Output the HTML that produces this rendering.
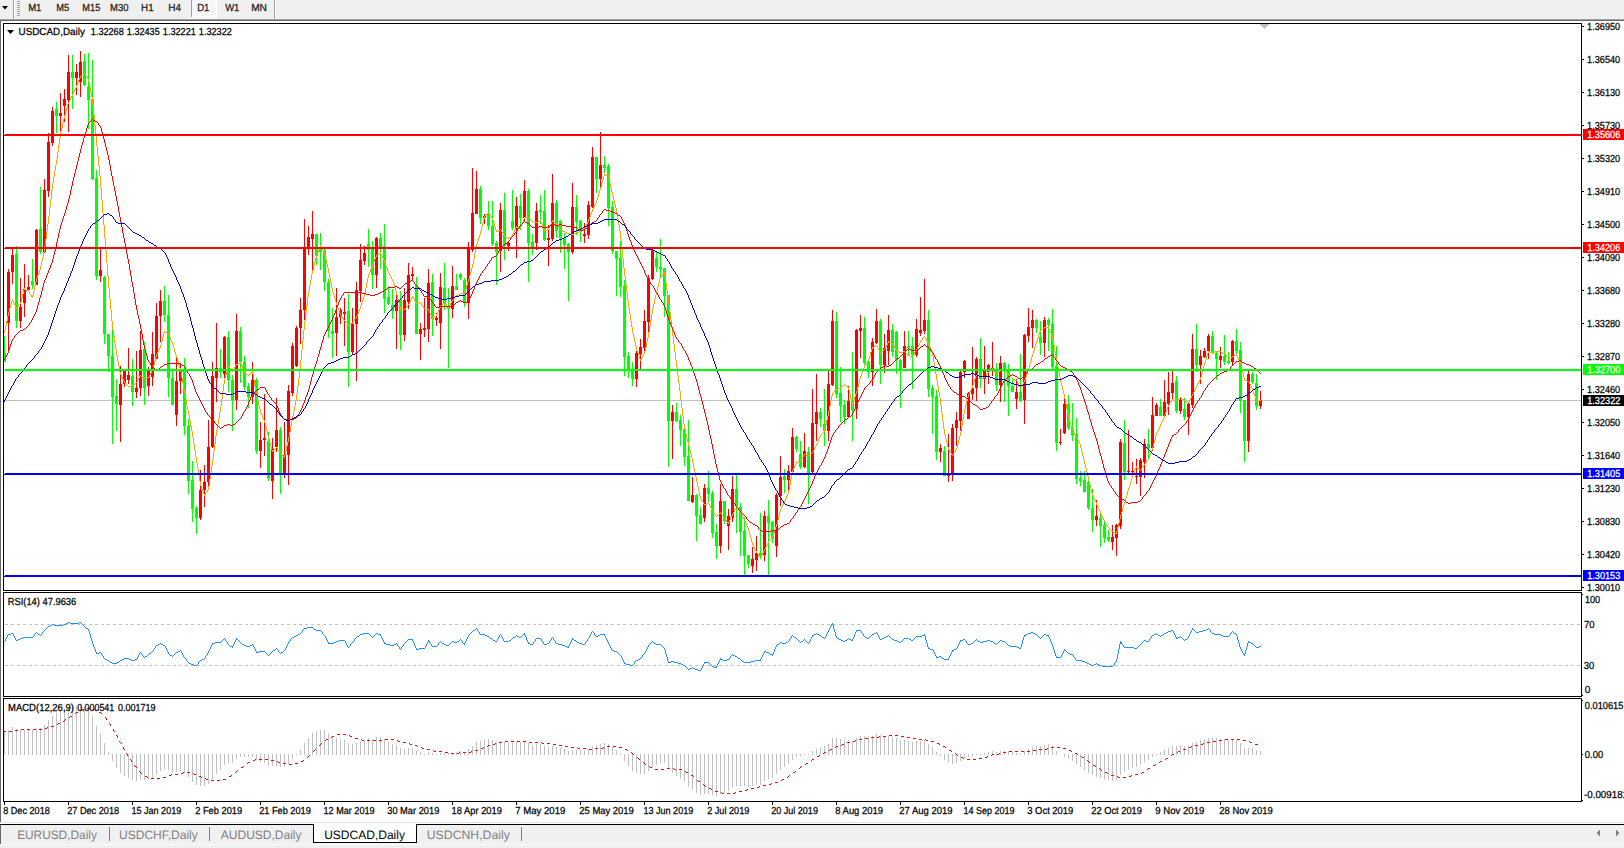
<!DOCTYPE html>
<html><head><meta charset="utf-8"><title>USDCAD,Daily</title>
<style>html,body{margin:0;padding:0;background:#fff;overflow:hidden}svg{display:block}text{font-family:"Liberation Sans",sans-serif;white-space:pre;text-rendering:geometricPrecision}</style>
</head><body>
<svg width="1624" height="848" viewBox="0 0 1624 848">
<rect x="0" y="0" width="1624" height="848" fill="#ffffff"/>
<rect x="0" y="0" width="1624" height="19" fill="#f0f0f0"/>
<rect x="0" y="19" width="1624" height="1" fill="#a0a0a0"/>
<rect x="0" y="20" width="1624" height="1" fill="#696969"/>
<rect x="0" y="20" width="1" height="802" fill="#696969"/>
<rect x="13" y="0" width="1" height="19" fill="#a0a0a0"/>
<rect x="14" y="0" width="1" height="19" fill="#ffffff"/>
<rect x="17" y="1" width="3" height="1" fill="#a6a6a6"/>
<rect x="17" y="3" width="3" height="1" fill="#a6a6a6"/>
<rect x="17" y="5" width="3" height="1" fill="#a6a6a6"/>
<rect x="17" y="7" width="3" height="1" fill="#a6a6a6"/>
<rect x="17" y="9" width="3" height="1" fill="#a6a6a6"/>
<rect x="17" y="11" width="3" height="1" fill="#a6a6a6"/>
<rect x="17" y="13" width="3" height="1" fill="#a6a6a6"/>
<rect x="17" y="15" width="3" height="1" fill="#a6a6a6"/>
<path d="M2 6H8L5 9.5Z" fill="#000"/>
<defs><pattern id="chk" width="2" height="2" patternUnits="userSpaceOnUse"><rect width="2" height="2" fill="#f0f0f0"/><rect width="1" height="1" fill="#fff"/><rect x="1" y="1" width="1" height="1" fill="#fff"/></pattern></defs>
<rect x="191" y="0" width="1" height="17" fill="#a0a0a0"/>
<rect x="192" y="0" width="24" height="17" fill="url(#chk)"/>
<rect x="216" y="0" width="1" height="18" fill="#ffffff"/>
<rect x="191" y="17" width="26" height="1" fill="#ffffff"/>
<rect x="274" y="0" width="1" height="19" fill="#a0a0a0"/>
<rect x="275" y="0" width="1" height="19" fill="#ffffff"/>
<g font-family="Liberation Sans, sans-serif">
<text x="28.13" y="11" font-size="10.2" fill="#202020" textLength="13.34" lengthAdjust="spacingAndGlyphs" stroke="#202020" stroke-width="0.25">M1</text>
<text x="56.25" y="11" font-size="10.2" fill="#202020" textLength="13.02" lengthAdjust="spacingAndGlyphs" stroke="#202020" stroke-width="0.25">M5</text>
<text x="82.36" y="11" font-size="10.2" fill="#202020" textLength="17.91" lengthAdjust="spacingAndGlyphs" stroke="#202020" stroke-width="0.25">M15</text>
<text x="110.09" y="11" font-size="10.2" fill="#202020" textLength="18.49" lengthAdjust="spacingAndGlyphs" stroke="#202020" stroke-width="0.25">M30</text>
<text x="141.12" y="11" font-size="10.2" fill="#202020" textLength="12.5" lengthAdjust="spacingAndGlyphs" stroke="#202020" stroke-width="0.25">H1</text>
<text x="168.2" y="11" font-size="10.2" fill="#202020" textLength="12.78" lengthAdjust="spacingAndGlyphs" stroke="#202020" stroke-width="0.25">H4</text>
<text x="197.13" y="11" font-size="10.2" fill="#202020" textLength="12.28" lengthAdjust="spacingAndGlyphs" stroke="#202020" stroke-width="0.25">D1</text>
<text x="225.15" y="11" font-size="10.2" fill="#202020" textLength="14.22" lengthAdjust="spacingAndGlyphs" stroke="#202020" stroke-width="0.25">W1</text>
<text x="251.14" y="11" font-size="10.2" fill="#202020" textLength="15.78" lengthAdjust="spacingAndGlyphs" stroke="#202020" stroke-width="0.25">MN</text>
</g>
<rect x="3" y="23" width="1579" height="1" fill="#000"/>
<rect x="3" y="590" width="1579" height="1" fill="#000"/>
<rect x="3" y="23" width="1" height="568" fill="#000"/>
<rect x="1581" y="23" width="1" height="568" fill="#000"/>
<rect x="3" y="592" width="1579" height="1" fill="#000"/>
<rect x="3" y="696" width="1579" height="1" fill="#000"/>
<rect x="3" y="592" width="1" height="105" fill="#000"/>
<rect x="1581" y="592" width="1" height="105" fill="#000"/>
<rect x="3" y="698" width="1579" height="1" fill="#000"/>
<rect x="3" y="801" width="1579" height="1" fill="#000"/>
<rect x="3" y="698" width="1" height="104" fill="#000"/>
<rect x="1581" y="698" width="1" height="104" fill="#000"/>
<path fill="#c0c0c0" d="M1260 24h9v1h-9zM1261 25h7v1h-7zM1262 26h5v1h-5zM1263 27h3v1h-3zM1264 28h1v1h-1z"/>
<g id="plot" shape-rendering="crispEdges">
<rect x="4" y="400" width="1577" height="1" fill="#c0c0c0"/>
<path fill="#ff0000" d="M8 269h1v83h-1zM7 272h3v51h-3zM12 248h1v36h-1zM11 255h3v17h-3zM20 278h1v50h-1zM19 307h3v14h-3zM24 264h1v53h-1zM23 289h3v14h-3zM28 275h1v15h-1zM27 287h3v3h-3zM36 229h1v56h-1zM35 230h3v55h-3zM44 179h1v74h-1zM43 190h3v62h-3zM48 133h1v64h-1zM47 142h3v49h-3zM52 107h1v39h-1zM51 111h3v32h-3zM60 93h1v38h-1zM59 113h3v3h-3zM64 89h1v33h-1zM63 99h3v7h-3zM68 55h1v77h-1zM67 72h3v28h-3zM76 64h1v31h-1zM75 72h3v6h-3zM80 51h1v46h-1zM79 62h3v20h-3zM100 248h1v34h-1zM99 270h3v6h-3zM120 366h1v76h-1zM119 384h3v21h-3zM124 370h1v17h-1zM123 371h3v13h-3zM128 348h1v36h-1zM127 375h3v5h-3zM136 351h1v47h-1zM135 388h3v4h-3zM140 331h1v65h-1zM139 350h3v38h-3zM148 367h1v29h-1zM147 371h3v15h-3zM152 332h1v54h-1zM151 354h3v23h-3zM156 303h1v56h-1zM155 316h3v43h-3zM160 290h1v52h-1zM159 301h3v15h-3zM176 358h1v68h-1zM175 381h3v34h-3zM180 364h1v30h-1zM179 370h3v11h-3zM200 470h1v50h-1zM199 490h3v28h-3zM204 465h1v42h-1zM203 482h3v8h-3zM208 420h1v66h-1zM207 447h3v35h-3zM212 362h1v86h-1zM211 376h3v71h-3zM216 323h1v79h-1zM215 368h3v10h-3zM224 336h1v42h-1zM223 337h3v37h-3zM236 314h1v96h-1zM235 331h3v69h-3zM252 362h1v42h-1zM251 380h3v17h-3zM260 422h1v46h-1zM259 440h3v11h-3zM264 394h1v62h-1zM263 438h3v2h-3zM272 438h1v61h-1zM271 449h3v32h-3zM276 398h1v54h-1zM275 430h3v17h-3zM284 422h1v56h-1zM283 455h3v18h-3zM288 385h1v100h-1zM287 391h3v64h-3zM292 343h1v53h-1zM291 346h3v47h-3zM296 326h1v41h-1zM295 328h3v38h-3zM300 298h1v46h-1zM299 310h3v18h-3zM304 219h1v101h-1zM303 247h3v63h-3zM308 226h1v29h-1zM307 237h3v11h-3zM312 211h1v59h-1zM311 234h3v5h-3zM336 288h1v68h-1zM335 317h3v16h-3zM340 308h1v16h-1zM339 310h3v7h-3zM344 298h1v48h-1zM343 312h3v2h-3zM352 308h1v46h-1zM351 324h3v28h-3zM356 282h1v99h-1zM355 290h3v34h-3zM360 244h1v58h-1zM359 260h3v31h-3zM364 246h1v19h-1zM363 253h3v8h-3zM376 237h1v51h-1zM375 238h3v37h-3zM396 294h1v55h-1zM395 300h3v11h-3zM404 288h1v53h-1zM403 300h3v35h-3zM408 263h1v46h-1zM407 275h3v27h-3zM412 267h1v13h-1zM411 274h3v2h-3zM420 323h1v37h-1zM419 329h3v5h-3zM424 298h1v39h-1zM423 328h3v2h-3zM428 269h1v73h-1zM427 283h3v46h-3zM436 313h1v13h-1zM435 318h3v2h-3zM440 273h1v76h-1zM439 287h3v36h-3zM452 266h1v52h-1zM451 286h3v23h-3zM468 242h1v77h-1zM467 248h3v55h-3zM472 168h1v84h-1zM471 213h3v37h-3zM476 171h1v43h-1zM475 189h3v25h-3zM484 214h1v10h-1zM483 216h3v2h-3zM500 203h1v69h-1zM499 210h3v41h-3zM508 242h1v9h-1zM507 243h3v3h-3zM516 197h1v61h-1zM515 206h3v24h-3zM524 180h1v41h-1zM523 191h3v27h-3zM536 203h1v47h-1zM535 211h3v32h-3zM548 225h1v41h-1zM547 238h3v2h-3zM552 174h1v67h-1zM551 203h3v36h-3zM572 183h1v71h-1zM571 207h3v45h-3zM584 223h1v20h-1zM583 234h3v2h-3zM588 201h1v38h-1zM587 205h3v30h-3zM592 147h1v61h-1zM591 157h3v50h-3zM600 132h1v55h-1zM599 165h3v14h-3zM636 351h1v36h-1zM635 353h3v26h-3zM640 339h1v30h-1zM639 347h3v7h-3zM644 310h1v42h-1zM643 321h3v27h-3zM648 275h1v58h-1zM647 278h3v44h-3zM652 248h1v32h-1zM651 250h3v29h-3zM672 405h1v54h-1zM671 412h3v9h-3zM692 477h1v26h-1zM691 495h3v7h-3zM704 484h1v38h-1zM703 488h3v30h-3zM720 484h1v69h-1zM719 501h3v45h-3zM728 509h1v41h-1zM727 516h3v10h-3zM732 476h1v46h-1zM731 489h3v29h-3zM752 547h1v26h-1zM751 559h3v7h-3zM756 536h1v35h-1zM755 553h3v7h-3zM764 511h1v50h-1zM763 516h3v39h-3zM776 493h1v64h-1zM775 495h3v51h-3zM780 456h1v50h-1zM779 477h3v19h-3zM788 465h1v25h-1zM787 471h3v9h-3zM792 428h1v45h-1zM791 437h3v35h-3zM804 433h1v35h-1zM803 451h3v16h-3zM812 389h1v85h-1zM811 423h3v49h-3zM816 374h1v67h-1zM815 412h3v12h-3zM828 371h1v70h-1zM827 384h3v47h-3zM832 310h1v76h-1zM831 321h3v64h-3zM848 386h1v32h-1zM847 401h3v16h-3zM856 329h1v90h-1zM855 330h3v79h-3zM860 315h1v43h-1zM859 328h3v3h-3zM872 338h1v48h-1zM871 342h3v30h-3zM876 309h1v35h-1zM875 321h3v22h-3zM884 334h1v39h-1zM883 348h3v17h-3zM888 315h1v50h-1zM887 330h3v21h-3zM904 331h1v37h-1zM903 346h3v22h-3zM916 319h1v38h-1zM915 329h3v26h-3zM920 297h1v39h-1zM919 330h3v3h-3zM924 279h1v55h-1zM923 320h3v11h-3zM940 444h1v18h-1zM939 448h3v4h-3zM948 434h1v48h-1zM947 474h3v2h-3zM952 424h1v57h-1zM951 428h3v45h-3zM956 412h1v34h-1zM955 420h3v8h-3zM960 371h1v60h-1zM959 372h3v49h-3zM964 360h1v18h-1zM963 361h3v11h-3zM968 392h1v27h-1zM967 393h3v26h-3zM972 347h1v53h-1zM971 388h3v6h-3zM976 357h1v44h-1zM975 359h3v29h-3zM984 346h1v48h-1zM983 371h3v8h-3zM988 364h1v20h-1zM987 365h3v7h-3zM992 342h1v34h-1zM991 368h3v3h-3zM1000 356h1v46h-1zM999 363h3v22h-3zM1016 379h1v30h-1zM1015 392h3v7h-3zM1024 334h1v90h-1zM1023 335h3v65h-3zM1028 308h1v34h-1zM1027 327h3v9h-3zM1032 310h1v38h-1zM1031 320h3v8h-3zM1044 317h1v40h-1zM1043 320h3v23h-3zM1060 429h1v16h-1zM1059 442h3v1h-3zM1064 399h1v35h-1zM1063 404h3v29h-3zM1096 500h1v26h-1zM1095 516h3v4h-3zM1112 525h1v25h-1zM1111 537h3v5h-3zM1116 524h1v32h-1zM1115 525h3v13h-3zM1120 439h1v90h-1zM1119 442h3v84h-3zM1128 430h1v43h-1zM1127 471h3v1h-3zM1132 462h1v13h-1zM1131 471h3v1h-3zM1136 459h1v25h-1zM1135 476h3v1h-3zM1140 458h1v38h-1zM1139 460h3v17h-3zM1144 439h1v39h-1zM1143 444h3v18h-3zM1152 397h1v54h-1zM1151 415h3v33h-3zM1156 403h1v13h-1zM1155 405h3v11h-3zM1164 380h1v36h-1zM1163 402h3v14h-3zM1168 372h1v43h-1zM1167 392h3v12h-3zM1172 371h1v28h-1zM1171 383h3v10h-3zM1180 398h1v16h-1zM1179 400h3v11h-3zM1188 403h1v32h-1zM1187 404h3v13h-3zM1192 334h1v74h-1zM1191 349h3v56h-3zM1200 350h1v34h-1zM1199 356h3v9h-3zM1204 348h1v10h-1zM1203 351h3v6h-3zM1208 334h1v25h-1zM1207 336h3v15h-3zM1220 347h1v21h-1zM1219 356h3v4h-3zM1232 340h1v26h-1zM1231 341h3v21h-3zM1248 371h1v81h-1zM1247 374h3v67h-3zM1260 391h1v18h-1zM1259 400h3v6h-3z"/>
<path fill="#00ff00" d="M4 336h1v17h-1zM4 353h2v9h-2zM16 246h1v82h-1zM15 254h3v67h-3zM32 259h1v30h-1zM31 281h3v4h-3zM40 187h1v67h-1zM39 229h3v23h-3zM56 102h1v31h-1zM55 109h3v7h-3zM72 55h1v54h-1zM71 72h3v6h-3zM84 54h1v32h-1zM83 61h3v24h-3zM88 53h1v76h-1zM87 87h3v13h-3zM92 60h1v120h-1zM91 99h3v80h-3zM96 170h1v110h-1zM95 178h3v98h-3zM104 276h1v68h-1zM103 277h3v57h-3zM108 334h1v38h-1zM107 334h3v22h-3zM112 330h1v114h-1zM111 356h3v41h-3zM116 379h1v52h-1zM115 396h3v8h-3zM132 359h1v47h-1zM131 376h3v16h-3zM144 342h1v63h-1zM143 349h3v39h-3zM164 286h1v36h-1zM163 301h3v14h-3zM168 295h1v102h-1zM167 315h3v63h-3zM172 371h1v34h-1zM171 378h3v27h-3zM184 358h1v77h-1zM183 370h3v56h-3zM188 419h1v75h-1zM187 426h3v55h-3zM192 461h1v61h-1zM191 480h3v29h-3zM196 506h1v28h-1zM195 508h3v10h-3zM220 349h1v29h-1zM219 368h3v4h-3zM228 331h1v61h-1zM227 337h3v43h-3zM232 375h1v56h-1zM231 380h3v20h-3zM240 327h1v56h-1zM239 331h3v31h-3zM244 356h1v34h-1zM243 362h3v25h-3zM248 383h1v25h-1zM247 386h3v11h-3zM256 378h1v76h-1zM255 380h3v71h-3zM268 432h1v49h-1zM267 441h3v37h-3zM280 427h1v67h-1zM279 430h3v43h-3zM316 234h1v31h-1zM315 234h3v22h-3zM320 233h1v37h-1zM319 248h3v4h-3zM324 249h1v42h-1zM323 250h3v32h-3zM328 279h1v59h-1zM327 282h3v49h-3zM332 308h1v50h-1zM331 331h3v3h-3zM348 294h1v93h-1zM347 311h3v41h-3zM368 229h1v38h-1zM367 244h3v6h-3zM372 241h1v48h-1zM371 248h3v27h-3zM380 233h1v36h-1zM379 238h3v9h-3zM384 224h1v89h-1zM383 246h3v53h-3zM388 286h1v19h-1zM387 297h3v7h-3zM392 289h1v30h-1zM391 305h3v6h-3zM400 291h1v59h-1zM399 300h3v35h-3zM416 277h1v57h-1zM415 285h3v49h-3zM432 274h1v62h-1zM431 282h3v37h-3zM444 263h1v47h-1zM443 288h3v16h-3zM448 288h1v80h-1zM447 306h3v3h-3zM456 274h1v16h-1zM455 286h3v4h-3zM460 273h1v7h-1zM459 274h3v4h-3zM464 278h1v29h-1zM463 280h3v22h-3zM480 186h1v38h-1zM479 189h3v29h-3zM488 201h1v29h-1zM487 213h3v13h-3zM492 201h1v45h-1zM491 226h3v18h-3zM496 241h1v44h-1zM495 243h3v9h-3zM504 193h1v67h-1zM503 210h3v36h-3zM512 190h1v40h-1zM511 221h3v7h-3zM520 194h1v36h-1zM519 206h3v12h-3zM528 189h1v93h-1zM527 191h3v52h-3zM532 234h1v21h-1zM531 242h3v6h-3zM540 195h1v29h-1zM539 210h3v2h-3zM544 190h1v51h-1zM543 211h3v29h-3zM556 200h1v38h-1zM555 203h3v28h-3zM560 220h1v33h-1zM559 221h3v17h-3zM564 233h1v36h-1zM563 238h3v7h-3zM568 243h1v58h-1zM567 244h3v8h-3zM576 195h1v40h-1zM575 207h3v15h-3zM580 220h1v22h-1zM579 221h3v11h-3zM596 157h1v36h-1zM595 157h3v22h-3zM604 156h1v17h-1zM603 165h3v3h-3zM608 164h1v62h-1zM607 166h3v42h-3zM612 201h1v53h-1zM611 207h3v44h-3zM616 251h1v45h-1zM615 251h3v8h-3zM620 241h1v56h-1zM619 258h3v29h-3zM624 280h1v96h-1zM623 286h3v71h-3zM628 352h1v26h-1zM627 356h3v13h-3zM632 362h1v24h-1zM631 369h3v10h-3zM656 251h1v21h-1zM655 258h3v9h-3zM660 239h1v38h-1zM659 267h3v2h-3zM664 268h1v49h-1zM663 268h3v28h-3zM668 295h1v172h-1zM667 295h3v126h-3zM676 403h1v19h-1zM675 412h3v9h-3zM680 415h1v31h-1zM679 420h3v10h-3zM684 429h1v37h-1zM683 429h3v28h-3zM688 420h1v81h-1zM687 456h3v45h-3zM696 494h1v47h-1zM695 495h3v21h-3zM700 507h1v17h-1zM699 515h3v9h-3zM708 471h1v31h-1zM707 488h3v6h-3zM712 491h1v47h-1zM711 493h3v40h-3zM716 524h1v35h-1zM715 532h3v14h-3zM724 501h1v23h-1zM723 501h3v20h-3zM736 475h1v58h-1zM735 489h3v17h-3zM740 503h1v53h-1zM739 507h3v25h-3zM744 517h1v58h-1zM743 531h3v25h-3zM748 555h1v13h-1zM747 555h3v9h-3zM760 513h1v46h-1zM759 553h3v3h-3zM768 500h1v75h-1zM767 516h3v7h-3zM772 521h1v22h-1zM771 522h3v17h-3zM784 469h1v24h-1zM783 476h3v4h-3zM796 436h1v16h-1zM795 437h3v12h-3zM800 441h1v28h-1zM799 454h3v13h-3zM808 447h1v57h-1zM807 452h3v21h-3zM820 408h1v19h-1zM819 412h3v7h-3zM824 389h1v57h-1zM823 424h3v7h-3zM836 312h1v86h-1zM835 321h3v73h-3zM840 367h1v55h-1zM839 393h3v13h-3zM844 400h1v24h-1zM843 405h3v12h-3zM852 352h1v89h-1zM851 401h3v9h-3zM864 317h1v48h-1zM863 328h3v35h-3zM868 361h1v17h-1zM867 362h3v10h-3zM880 319h1v65h-1zM879 321h3v44h-3zM892 324h1v33h-1zM891 330h3v22h-3zM896 331h1v43h-1zM895 332h3v28h-3zM900 359h1v49h-1zM899 360h3v11h-3zM908 331h1v24h-1zM907 346h3v2h-3zM912 337h1v52h-1zM911 346h3v9h-3zM928 310h1v87h-1zM927 320h3v69h-3zM932 385h1v49h-1zM931 388h3v9h-3zM936 390h1v70h-1zM935 396h3v56h-3zM944 446h1v30h-1zM943 451h3v25h-3zM980 338h1v50h-1zM979 359h3v20h-3zM996 363h1v28h-1zM995 371h3v14h-3zM1004 362h1v40h-1zM1003 363h3v6h-3zM1008 364h1v52h-1zM1007 370h3v16h-3zM1012 378h1v14h-1zM1011 386h3v6h-3zM1020 354h1v48h-1zM1019 392h3v9h-3zM1036 319h1v14h-1zM1035 320h3v8h-3zM1040 321h1v34h-1zM1039 337h3v6h-3zM1048 318h1v33h-1zM1047 320h3v5h-3zM1052 309h1v60h-1zM1051 324h3v43h-3zM1056 346h1v105h-1zM1055 366h3v77h-3zM1068 395h1v35h-1zM1067 404h3v24h-3zM1072 403h1v38h-1zM1071 429h3v6h-3zM1076 418h1v66h-1zM1075 434h3v45h-3zM1080 471h1v15h-1zM1079 478h3v3h-3zM1084 471h1v21h-1zM1083 480h3v12h-3zM1088 481h1v29h-1zM1087 482h3v26h-3zM1092 489h1v43h-1zM1091 508h3v12h-3zM1100 514h1v33h-1zM1099 518h3v8h-3zM1104 522h1v21h-1zM1103 525h3v13h-3zM1108 530h1v12h-1zM1107 537h3v3h-3zM1124 420h1v60h-1zM1123 443h3v29h-3zM1148 429h1v30h-1zM1147 444h3v4h-3zM1160 399h1v17h-1zM1159 407h3v9h-3zM1176 376h1v37h-1zM1175 381h3v30h-3zM1184 398h1v22h-1zM1183 409h3v8h-3zM1196 324h1v48h-1zM1195 349h3v16h-3zM1212 331h1v23h-1zM1211 336h3v17h-3zM1216 352h1v28h-1zM1215 353h3v6h-3zM1224 335h1v30h-1zM1223 356h3v6h-3zM1228 352h1v12h-1zM1227 361h3v2h-3zM1236 329h1v26h-1zM1235 341h3v10h-3zM1240 342h1v71h-1zM1239 350h3v51h-3zM1244 400h1v62h-1zM1243 400h3v41h-3zM1252 372h1v12h-1zM1251 374h3v8h-3zM1256 374h1v36h-1zM1255 383h3v23h-3z"/>
<path fill="#ffa500" d="M81 75h2v1h-2zM604 174h2v1h-2zM606 175h3v1h-3zM524 217h5v1h-5zM532 221h2v1h-2zM538 221h3v1h-3zM552 221h2v1h-2zM534 222h4v1h-4zM516 227h3v1h-3zM519 228h2v1h-2zM547 229h2v1h-2zM498 230h2v1h-2zM544 230h3v1h-3zM561 230h2v1h-2zM582 230h2v1h-2zM496 231h2v1h-2zM563 231h2v1h-2zM579 231h3v1h-3zM565 232h2v1h-2zM576 232h3v1h-3zM567 233h3v1h-3zM574 233h2v1h-2zM570 234h4v1h-4zM506 237h2v1h-2zM509 237h2v1h-2zM320 246h2v1h-2zM379 253h2v1h-2zM377 254h2v1h-2zM663 273h2v1h-2zM24 289h2v1h-2zM26 290h2v1h-2zM460 293h5v1h-5zM458 294h2v1h-2zM31 295h2v1h-2zM456 295h2v1h-2zM31 296h2v1h-2zM412 297h2v1h-2zM419 302h2v1h-2zM416 303h3v1h-3zM16 307h2v1h-2zM424 308h2v1h-2zM400 309h5v1h-5zM426 309h3v1h-3zM432 317h3v1h-3zM350 323h2v1h-2zM348 324h2v1h-2zM1044 327h5v1h-5zM1041 329h2v1h-2zM164 332h3v1h-3zM167 333h2v1h-2zM888 342h3v1h-3zM891 343h2v1h-2zM874 346h2v1h-2zM872 347h2v1h-2zM881 351h2v1h-2zM897 351h2v1h-2zM903 351h2v1h-2zM1208 351h2v1h-2zM1215 351h6v1h-6zM899 352h4v1h-4zM1210 352h5v1h-5zM1221 352h2v1h-2zM1223 353h2v1h-2zM908 355h2v1h-2zM1234 355h3v1h-3zM910 356h3v1h-3zM1232 356h2v1h-2zM1230 357h2v1h-2zM1228 358h2v1h-2zM640 359h2v1h-2zM238 363h3v1h-3zM236 364h2v1h-2zM228 367h2v1h-2zM1003 369h2v1h-2zM1000 370h3v1h-3zM251 372h2v1h-2zM997 372h2v1h-2zM246 374h2v1h-2zM976 374h2v1h-2zM978 375h3v1h-3zM981 376h2v1h-2zM142 377h2v1h-2zM147 377h2v1h-2zM983 377h2v1h-2zM144 378h3v1h-3zM1013 379h2v1h-2zM1015 380h2v1h-2zM1245 380h2v1h-2zM1247 381h2v1h-2zM133 384h2v1h-2zM131 385h2v1h-2zM128 386h3v1h-3zM841 386h2v1h-2zM846 386h2v1h-2zM838 388h2v1h-2zM836 389h2v1h-2zM1172 399h2v1h-2zM1177 399h2v1h-2zM1182 399h2v1h-2zM1174 400h3v1h-3zM1256 400h5v1h-5zM1185 401h2v1h-2zM1187 402h2v1h-2zM852 403h2v1h-2zM272 450h2v1h-2zM804 454h2v1h-2zM809 454h2v1h-2zM806 455h3v1h-3zM283 456h2v1h-2zM798 461h2v1h-2zM796 462h2v1h-2zM1136 467h2v1h-2zM204 494h2v1h-2zM707 503h2v1h-2zM704 504h3v1h-3zM736 507h2v1h-2zM727 522h2v1h-2zM1113 532h2v1h-2zM1115 533h2v1h-2zM4 330h1v3h-1zM5 325h1v5h-1zM6 321h1v4h-1zM7 316h1v5h-1zM8 312h1v4h-1zM9 308h1v4h-1zM10 305h1v3h-1zM11 301h1v4h-1zM12 299h1v2h-1zM13 301h1v2h-1zM14 303h1v2h-1zM15 305h1v2h-1zM16 308h1v1h-1zM18 305h1v2h-1zM19 304h1v1h-1zM20 302h1v2h-1zM21 298h1v4h-1zM22 294h1v4h-1zM23 290h1v4h-1zM24 288h1v1h-1zM28 291h1v1h-1zM29 292h1v2h-1zM30 294h1v1h-1zM32 297h1v1h-1zM33 291h1v4h-1zM34 286h1v5h-1zM35 282h1v4h-1zM36 278h1v4h-1zM37 275h1v3h-1zM38 273h1v2h-1zM39 270h1v3h-1zM40 266h1v4h-1zM41 261h1v5h-1zM42 257h1v4h-1zM43 252h1v5h-1zM44 246h1v6h-1zM45 239h1v7h-1zM46 231h1v8h-1zM47 224h1v7h-1zM48 216h1v8h-1zM49 207h1v9h-1zM50 199h1v8h-1zM51 190h1v9h-1zM52 183h1v7h-1zM53 177h1v6h-1zM54 171h1v6h-1zM55 165h1v6h-1zM56 159h1v6h-1zM57 152h1v7h-1zM58 145h1v7h-1zM59 138h1v7h-1zM60 132h1v6h-1zM61 128h1v4h-1zM62 123h1v5h-1zM63 119h1v4h-1zM64 115h1v4h-1zM65 111h1v4h-1zM66 108h1v3h-1zM67 104h1v4h-1zM68 102h1v2h-1zM69 100h1v2h-1zM70 98h1v2h-1zM71 96h1v2h-1zM72 94h1v2h-1zM73 92h1v2h-1zM74 90h1v2h-1zM75 88h1v2h-1zM76 85h1v3h-1zM77 83h1v2h-1zM78 80h1v3h-1zM79 78h1v2h-1zM80 76h1v2h-1zM83 74h1v1h-1zM84 73h1v1h-1zM85 74h1v2h-1zM86 76h1v1h-1zM87 77h1v2h-1zM88 79h1v3h-1zM89 82h1v5h-1zM90 87h1v5h-1zM91 92h1v5h-1zM92 97h1v8h-1zM93 105h1v10h-1zM94 115h1v10h-1zM95 125h1v10h-1zM96 135h1v11h-1zM97 146h1v10h-1zM98 156h1v10h-1zM99 166h1v10h-1zM100 176h1v12h-1zM101 188h1v12h-1zM102 200h1v13h-1zM103 213h1v12h-1zM104 225h1v13h-1zM105 238h1v13h-1zM106 251h1v12h-1zM107 263h1v13h-1zM108 276h1v12h-1zM109 288h1v11h-1zM110 299h1v11h-1zM111 310h1v11h-1zM112 321h1v9h-1zM113 330h1v6h-1zM114 336h1v7h-1zM115 343h1v6h-1zM116 349h1v6h-1zM117 355h1v6h-1zM118 361h1v5h-1zM119 366h1v6h-1zM120 372h1v3h-1zM121 375h1v2h-1zM122 377h1v2h-1zM123 379h1v2h-1zM124 381h1v2h-1zM125 383h1v1h-1zM126 384h1v1h-1zM127 385h1v1h-1zM135 383h1v1h-1zM136 382h1v1h-1zM137 380h1v2h-1zM138 378h1v2h-1zM139 376h1v2h-1zM140 375h1v1h-1zM141 376h1v1h-1zM149 375h1v2h-1zM150 373h1v2h-1zM151 371h1v2h-1zM152 369h1v2h-1zM153 365h1v4h-1zM154 361h1v4h-1zM155 357h1v4h-1zM156 354h1v3h-1zM157 352h1v2h-1zM158 350h1v2h-1zM159 348h1v2h-1zM160 345h1v3h-1zM161 341h1v4h-1zM162 337h1v4h-1zM163 333h1v4h-1zM164 331h1v1h-1zM168 334h1v1h-1zM169 335h1v2h-1zM170 337h1v3h-1zM171 340h1v2h-1zM172 342h1v3h-1zM173 345h1v3h-1zM174 348h1v4h-1zM175 352h1v3h-1zM176 355h1v3h-1zM177 358h1v3h-1zM178 361h1v4h-1zM179 365h1v3h-1zM180 368h1v4h-1zM181 372h1v6h-1zM182 378h1v5h-1zM183 383h1v6h-1zM184 389h1v5h-1zM185 394h1v5h-1zM186 399h1v6h-1zM187 405h1v5h-1zM188 410h1v5h-1zM189 415h1v5h-1zM190 420h1v6h-1zM191 426h1v5h-1zM192 431h1v6h-1zM193 437h1v7h-1zM194 444h1v6h-1zM195 450h1v7h-1zM196 457h1v6h-1zM197 463h1v6h-1zM198 469h1v6h-1zM199 475h1v6h-1zM200 481h1v5h-1zM201 486h1v3h-1zM202 489h1v2h-1zM203 491h1v3h-1zM204 495h1v1h-1zM205 493h1v1h-1zM206 492h1v1h-1zM207 490h1v2h-1zM208 486h1v4h-1zM209 479h1v7h-1zM210 473h1v6h-1zM211 466h1v7h-1zM212 459h1v7h-1zM213 451h1v8h-1zM214 444h1v7h-1zM215 436h1v8h-1zM216 430h1v6h-1zM217 424h1v6h-1zM218 418h1v6h-1zM219 412h1v6h-1zM220 406h1v6h-1zM221 399h1v7h-1zM222 391h1v8h-1zM223 384h1v7h-1zM224 379h1v5h-1zM225 375h1v4h-1zM226 372h1v3h-1zM227 368h1v4h-1zM228 366h1v1h-1zM230 368h1v2h-1zM231 370h1v1h-1zM232 371h1v1h-1zM233 369h1v2h-1zM234 367h1v2h-1zM235 365h1v2h-1zM240 362h1v1h-1zM241 364h1v2h-1zM242 366h1v3h-1zM243 369h1v2h-1zM244 371h1v2h-1zM245 373h1v1h-1zM248 375h1v1h-1zM249 374h1v1h-1zM250 373h1v1h-1zM252 371h1v1h-1zM252 373h1v1h-1zM253 374h1v6h-1zM254 380h1v6h-1zM255 386h1v6h-1zM256 392h1v5h-1zM257 397h1v4h-1zM258 401h1v4h-1zM259 405h1v4h-1zM260 409h1v4h-1zM261 413h1v2h-1zM262 415h1v3h-1zM263 418h1v2h-1zM264 420h1v3h-1zM265 423h1v4h-1zM266 427h1v4h-1zM267 431h1v4h-1zM268 435h1v4h-1zM269 439h1v4h-1zM270 443h1v3h-1zM271 446h1v4h-1zM272 451h1v1h-1zM274 449h1v1h-1zM275 448h1v1h-1zM276 447h1v1h-1zM277 448h1v2h-1zM278 450h1v1h-1zM279 451h1v2h-1zM280 453h1v1h-1zM281 454h1v1h-1zM282 455h1v1h-1zM284 455h1v1h-1zM284 457h1v1h-1zM285 451h1v4h-1zM286 446h1v5h-1zM287 442h1v4h-1zM288 437h1v5h-1zM289 432h1v5h-1zM290 426h1v6h-1zM291 421h1v5h-1zM292 416h1v5h-1zM293 411h1v5h-1zM294 406h1v5h-1zM295 401h1v5h-1zM296 394h1v7h-1zM297 386h1v8h-1zM298 378h1v8h-1zM299 370h1v8h-1zM300 360h1v10h-1zM301 350h1v10h-1zM302 340h1v10h-1zM303 330h1v10h-1zM304 321h1v9h-1zM305 313h1v8h-1zM306 305h1v8h-1zM307 297h1v8h-1zM308 291h1v6h-1zM309 285h1v6h-1zM310 280h1v5h-1zM311 274h1v6h-1zM312 270h1v4h-1zM313 266h1v4h-1zM314 262h1v4h-1zM315 258h1v4h-1zM316 255h1v3h-1zM317 252h1v3h-1zM318 250h1v2h-1zM319 247h1v3h-1zM320 245h1v1h-1zM321 247h1v1h-1zM322 248h1v2h-1zM323 250h1v2h-1zM324 252h1v3h-1zM325 255h1v4h-1zM326 259h1v5h-1zM327 264h1v4h-1zM328 268h1v5h-1zM329 273h1v5h-1zM330 278h1v5h-1zM331 283h1v5h-1zM332 288h1v4h-1zM333 292h1v3h-1zM334 295h1v4h-1zM335 299h1v3h-1zM336 302h1v3h-1zM337 305h1v3h-1zM338 308h1v2h-1zM339 310h1v3h-1zM340 313h1v2h-1zM341 315h1v2h-1zM342 317h1v1h-1zM343 318h1v2h-1zM344 320h1v1h-1zM345 321h1v1h-1zM346 322h1v1h-1zM347 323h1v1h-1zM352 322h1v1h-1zM353 321h1v1h-1zM354 319h1v2h-1zM355 318h1v1h-1zM356 316h1v2h-1zM357 314h1v2h-1zM358 311h1v3h-1zM359 309h1v2h-1zM360 306h1v3h-1zM361 303h1v3h-1zM362 300h1v3h-1zM363 297h1v3h-1zM364 293h1v4h-1zM365 288h1v5h-1zM366 283h1v5h-1zM367 278h1v5h-1zM368 274h1v4h-1zM369 272h1v2h-1zM370 269h1v3h-1zM371 267h1v2h-1zM372 264h1v3h-1zM373 262h1v2h-1zM374 259h1v3h-1zM375 257h1v2h-1zM376 255h1v2h-1zM380 252h1v1h-1zM381 254h1v2h-1zM382 256h1v2h-1zM383 258h1v2h-1zM384 260h1v3h-1zM385 263h1v3h-1zM386 266h1v2h-1zM387 268h1v3h-1zM388 271h1v2h-1zM389 273h1v2h-1zM390 275h1v2h-1zM391 277h1v2h-1zM392 279h1v2h-1zM393 281h1v3h-1zM394 284h1v4h-1zM395 288h1v3h-1zM396 291h1v4h-1zM397 295h1v4h-1zM398 299h1v4h-1zM399 303h1v4h-1zM400 307h1v2h-1zM405 308h1v1h-1zM406 306h1v2h-1zM407 305h1v1h-1zM408 304h1v1h-1zM409 302h1v2h-1zM410 300h1v2h-1zM411 298h1v2h-1zM412 296h1v1h-1zM413 298h1v1h-1zM414 299h1v2h-1zM415 301h1v2h-1zM421 303h1v2h-1zM422 305h1v1h-1zM423 306h1v2h-1zM428 310h1v1h-1zM429 311h1v2h-1zM430 313h1v2h-1zM431 315h1v2h-1zM432 318h1v1h-1zM435 316h1v1h-1zM436 314h1v2h-1zM437 312h1v2h-1zM438 310h1v2h-1zM439 308h1v2h-1zM440 306h1v2h-1zM441 305h1v1h-1zM442 304h1v1h-1zM443 303h1v1h-1zM444 302h1v1h-1zM445 303h1v1h-1zM446 304h1v2h-1zM447 306h1v1h-1zM448 307h1v1h-1zM449 305h1v2h-1zM450 303h1v2h-1zM451 301h1v2h-1zM452 300h1v1h-1zM453 299h1v1h-1zM454 297h1v2h-1zM455 296h1v1h-1zM464 292h1v1h-1zM465 289h1v3h-1zM466 285h1v4h-1zM467 282h1v3h-1zM468 279h1v3h-1zM469 275h1v4h-1zM470 272h1v3h-1zM471 268h1v4h-1zM472 264h1v4h-1zM473 259h1v5h-1zM474 253h1v6h-1zM475 248h1v5h-1zM476 244h1v4h-1zM477 241h1v3h-1zM478 238h1v3h-1zM479 235h1v3h-1zM480 231h1v4h-1zM481 227h1v4h-1zM482 223h1v4h-1zM483 219h1v4h-1zM484 216h1v3h-1zM485 215h1v1h-1zM486 214h1v1h-1zM487 213h1v1h-1zM488 212h1v1h-1zM489 213h1v2h-1zM490 215h1v1h-1zM491 216h1v2h-1zM492 218h1v2h-1zM493 220h1v3h-1zM494 223h1v4h-1zM495 227h1v3h-1zM496 230h1v1h-1zM500 229h1v1h-1zM501 230h1v2h-1zM502 232h1v1h-1zM503 233h1v2h-1zM504 235h1v1h-1zM505 236h1v1h-1zM508 238h1v1h-1zM511 236h1v1h-1zM512 234h1v2h-1zM513 232h1v2h-1zM514 230h1v2h-1zM515 228h1v2h-1zM516 226h1v1h-1zM520 227h1v1h-1zM521 224h1v3h-1zM522 222h1v2h-1zM523 219h1v3h-1zM524 218h1v1h-1zM529 218h1v1h-1zM530 219h1v1h-1zM531 220h1v1h-1zM540 220h1v1h-1zM541 222h1v2h-1zM542 224h1v3h-1zM543 227h1v2h-1zM544 229h1v1h-1zM548 228h1v1h-1zM549 226h1v2h-1zM550 224h1v2h-1zM551 222h1v2h-1zM552 220h1v1h-1zM554 222h1v1h-1zM555 223h1v1h-1zM556 224h1v1h-1zM557 225h1v1h-1zM558 226h1v2h-1zM559 228h1v1h-1zM560 229h1v1h-1zM584 228h1v2h-1zM585 226h1v2h-1zM586 224h1v2h-1zM587 222h1v2h-1zM588 219h1v3h-1zM589 217h1v2h-1zM590 214h1v3h-1zM591 212h1v2h-1zM592 209h1v3h-1zM593 207h1v2h-1zM594 205h1v2h-1zM595 203h1v2h-1zM596 200h1v3h-1zM597 197h1v3h-1zM598 193h1v4h-1zM599 190h1v3h-1zM600 187h1v3h-1zM601 183h1v4h-1zM602 180h1v3h-1zM603 176h1v4h-1zM604 175h1v1h-1zM608 176h1v2h-1zM609 178h1v5h-1zM610 183h1v4h-1zM611 187h1v5h-1zM612 192h1v4h-1zM613 196h1v4h-1zM614 200h1v4h-1zM615 204h1v4h-1zM616 208h1v5h-1zM617 213h1v6h-1zM618 219h1v6h-1zM619 225h1v6h-1zM620 231h1v8h-1zM621 239h1v10h-1zM622 249h1v9h-1zM623 258h1v10h-1zM624 268h1v8h-1zM625 276h1v8h-1zM626 284h1v8h-1zM627 292h1v8h-1zM628 300h1v8h-1zM629 308h1v6h-1zM630 314h1v7h-1zM631 321h1v6h-1zM632 327h1v6h-1zM633 333h1v4h-1zM634 337h1v5h-1zM635 342h1v4h-1zM636 346h1v4h-1zM637 350h1v3h-1zM638 353h1v3h-1zM639 356h1v3h-1zM640 360h1v1h-1zM641 358h1v1h-1zM642 356h1v2h-1zM643 354h1v2h-1zM644 351h1v3h-1zM645 347h1v4h-1zM646 342h1v5h-1zM647 338h1v4h-1zM648 332h1v6h-1zM649 326h1v6h-1zM650 320h1v6h-1zM651 314h1v6h-1zM652 308h1v6h-1zM653 304h1v4h-1zM654 299h1v5h-1zM655 295h1v4h-1zM656 291h1v4h-1zM657 287h1v4h-1zM658 283h1v4h-1zM659 279h1v4h-1zM660 277h1v2h-1zM661 276h1v1h-1zM662 274h1v2h-1zM664 272h1v1h-1zM664 274h1v2h-1zM665 276h1v7h-1zM666 283h1v7h-1zM667 290h1v7h-1zM668 297h1v7h-1zM669 304h1v8h-1zM670 312h1v8h-1zM671 320h1v8h-1zM672 328h1v8h-1zM673 336h1v8h-1zM674 344h1v8h-1zM675 352h1v8h-1zM676 360h1v7h-1zM677 367h1v8h-1zM678 375h1v8h-1zM679 383h1v8h-1zM680 391h1v9h-1zM681 400h1v8h-1zM682 408h1v8h-1zM683 416h1v8h-1zM684 424h1v6h-1zM685 430h1v4h-1zM686 434h1v4h-1zM687 438h1v4h-1zM688 442h1v4h-1zM689 446h1v4h-1zM690 450h1v4h-1zM691 454h1v4h-1zM692 458h1v5h-1zM693 463h1v5h-1zM694 468h1v4h-1zM695 472h1v5h-1zM696 477h1v5h-1zM697 482h1v5h-1zM698 487h1v4h-1zM699 491h1v5h-1zM700 496h1v3h-1zM701 499h1v2h-1zM702 501h1v1h-1zM703 502h1v2h-1zM709 504h1v2h-1zM710 506h1v2h-1zM711 508h1v2h-1zM712 510h1v1h-1zM713 511h1v2h-1zM714 513h1v1h-1zM715 514h1v2h-1zM716 516h1v1h-1zM717 515h1v1h-1zM718 514h1v1h-1zM719 513h1v1h-1zM720 512h1v1h-1zM721 513h1v2h-1zM722 515h1v1h-1zM723 516h1v2h-1zM724 518h1v1h-1zM725 519h1v1h-1zM726 520h1v2h-1zM728 523h1v1h-1zM729 520h1v2h-1zM730 518h1v2h-1zM731 516h1v2h-1zM732 514h1v2h-1zM733 512h1v2h-1zM734 510h1v2h-1zM735 508h1v2h-1zM736 506h1v1h-1zM737 508h1v1h-1zM738 509h1v1h-1zM739 510h1v2h-1zM740 512h1v1h-1zM741 513h1v2h-1zM742 515h1v2h-1zM743 517h1v2h-1zM744 519h1v2h-1zM745 521h1v2h-1zM746 523h1v3h-1zM747 526h1v2h-1zM748 528h1v3h-1zM749 531h1v4h-1zM750 535h1v3h-1zM751 538h1v4h-1zM752 542h1v3h-1zM753 545h1v2h-1zM754 547h1v2h-1zM755 549h1v2h-1zM756 551h1v2h-1zM757 553h1v1h-1zM758 554h1v2h-1zM759 556h1v1h-1zM760 557h1v1h-1zM761 555h1v2h-1zM762 553h1v2h-1zM763 551h1v2h-1zM764 549h1v2h-1zM765 547h1v2h-1zM766 545h1v2h-1zM767 543h1v2h-1zM768 541h1v2h-1zM769 540h1v1h-1zM770 539h1v1h-1zM771 538h1v1h-1zM772 536h1v2h-1zM773 533h1v3h-1zM774 530h1v3h-1zM775 527h1v3h-1zM776 524h1v3h-1zM777 520h1v4h-1zM778 516h1v4h-1zM779 512h1v4h-1zM780 509h1v3h-1zM781 507h1v2h-1zM782 505h1v2h-1zM783 503h1v2h-1zM784 501h1v2h-1zM785 499h1v2h-1zM786 496h1v3h-1zM787 494h1v2h-1zM788 490h1v4h-1zM789 485h1v5h-1zM790 479h1v6h-1zM791 474h1v5h-1zM792 470h1v4h-1zM793 468h1v2h-1zM794 466h1v2h-1zM795 464h1v2h-1zM796 463h1v1h-1zM800 460h1v1h-1zM801 458h1v2h-1zM802 457h1v1h-1zM803 455h1v2h-1zM811 453h1v1h-1zM812 452h1v1h-1zM813 450h1v2h-1zM814 448h1v2h-1zM815 446h1v2h-1zM816 444h1v2h-1zM817 442h1v2h-1zM818 439h1v3h-1zM819 437h1v2h-1zM820 435h1v2h-1zM821 434h1v1h-1zM822 433h1v1h-1zM823 432h1v1h-1zM824 429h1v3h-1zM825 425h1v4h-1zM826 420h1v5h-1zM827 416h1v4h-1zM828 411h1v5h-1zM829 406h1v5h-1zM830 401h1v5h-1zM831 396h1v5h-1zM832 393h1v3h-1zM833 392h1v1h-1zM834 391h1v1h-1zM835 390h1v1h-1zM840 387h1v1h-1zM843 385h1v1h-1zM844 384h1v1h-1zM845 385h1v1h-1zM848 387h1v3h-1zM849 390h1v4h-1zM850 394h1v5h-1zM851 399h1v4h-1zM852 404h1v2h-1zM853 401h1v2h-1zM854 397h1v4h-1zM855 394h1v3h-1zM856 391h1v3h-1zM857 387h1v4h-1zM858 383h1v4h-1zM859 379h1v4h-1zM860 376h1v3h-1zM861 373h1v3h-1zM862 371h1v2h-1zM863 368h1v3h-1zM864 366h1v2h-1zM865 364h1v2h-1zM866 363h1v1h-1zM867 361h1v2h-1zM868 359h1v2h-1zM869 356h1v3h-1zM870 352h1v4h-1zM871 349h1v3h-1zM872 348h1v1h-1zM876 345h1v1h-1zM877 346h1v2h-1zM878 348h1v2h-1zM879 350h1v2h-1zM880 352h1v1h-1zM883 350h1v1h-1zM884 349h1v1h-1zM885 347h1v2h-1zM886 345h1v2h-1zM887 343h1v2h-1zM888 341h1v1h-1zM893 344h1v2h-1zM894 346h1v2h-1zM895 348h1v2h-1zM896 350h1v1h-1zM905 352h1v1h-1zM906 353h1v1h-1zM907 354h1v1h-1zM913 354h1v2h-1zM914 352h1v2h-1zM915 350h1v2h-1zM916 349h1v1h-1zM917 347h1v2h-1zM918 345h1v2h-1zM919 343h1v2h-1zM920 341h1v2h-1zM921 340h1v1h-1zM922 338h1v2h-1zM923 337h1v1h-1zM924 336h1v1h-1zM925 337h1v2h-1zM926 339h1v2h-1zM927 341h1v2h-1zM928 343h1v2h-1zM929 345h1v2h-1zM930 347h1v2h-1zM931 349h1v2h-1zM932 351h1v5h-1zM933 356h1v6h-1zM934 362h1v6h-1zM935 368h1v6h-1zM936 374h1v6h-1zM937 380h1v6h-1zM938 386h1v6h-1zM939 392h1v6h-1zM940 398h1v7h-1zM941 405h1v8h-1zM942 413h1v8h-1zM943 421h1v8h-1zM944 429h1v6h-1zM945 435h1v4h-1zM946 439h1v4h-1zM947 443h1v4h-1zM948 447h1v3h-1zM949 450h1v2h-1zM950 452h1v1h-1zM951 453h1v2h-1zM952 455h1v1h-1zM953 453h1v2h-1zM954 452h1v1h-1zM955 450h1v2h-1zM956 448h1v2h-1zM957 444h1v4h-1zM958 440h1v4h-1zM959 436h1v4h-1zM960 432h1v4h-1zM961 426h1v6h-1zM962 420h1v6h-1zM963 414h1v6h-1zM964 409h1v5h-1zM965 405h1v4h-1zM966 401h1v4h-1zM967 397h1v4h-1zM968 394h1v3h-1zM969 392h1v2h-1zM970 390h1v2h-1zM971 388h1v2h-1zM972 385h1v3h-1zM973 382h1v3h-1zM974 379h1v3h-1zM975 376h1v3h-1zM976 375h1v1h-1zM985 376h1v1h-1zM986 374h1v2h-1zM987 373h1v1h-1zM988 372h1v1h-1zM989 371h1v1h-1zM990 370h1v1h-1zM991 369h1v1h-1zM992 368h1v1h-1zM993 369h1v1h-1zM994 370h1v2h-1zM995 372h1v1h-1zM996 373h1v1h-1zM999 371h1v1h-1zM1005 370h1v1h-1zM1006 371h1v2h-1zM1007 373h1v1h-1zM1008 374h1v1h-1zM1009 375h1v1h-1zM1010 376h1v1h-1zM1011 377h1v1h-1zM1012 378h1v1h-1zM1017 381h1v2h-1zM1018 383h1v2h-1zM1019 385h1v2h-1zM1020 387h1v1h-1zM1021 385h1v2h-1zM1022 384h1v1h-1zM1023 382h1v2h-1zM1024 380h1v2h-1zM1025 377h1v3h-1zM1026 374h1v3h-1zM1027 371h1v3h-1zM1028 368h1v3h-1zM1029 364h1v4h-1zM1030 361h1v3h-1zM1031 357h1v4h-1zM1032 354h1v3h-1zM1033 351h1v3h-1zM1034 347h1v4h-1zM1035 344h1v3h-1zM1036 341h1v3h-1zM1037 338h1v3h-1zM1038 335h1v3h-1zM1039 332h1v3h-1zM1040 330h1v2h-1zM1043 328h1v1h-1zM1048 328h1v1h-1zM1049 329h1v2h-1zM1050 331h1v2h-1zM1051 333h1v2h-1zM1052 335h1v4h-1zM1053 339h1v6h-1zM1054 345h1v6h-1zM1055 351h1v6h-1zM1056 357h1v5h-1zM1057 362h1v5h-1zM1058 367h1v5h-1zM1059 372h1v5h-1zM1060 377h1v5h-1zM1061 382h1v4h-1zM1062 386h1v4h-1zM1063 390h1v4h-1zM1064 394h1v5h-1zM1065 399h1v5h-1zM1066 404h1v5h-1zM1067 409h1v5h-1zM1068 414h1v4h-1zM1069 418h1v4h-1zM1070 422h1v3h-1zM1071 425h1v4h-1zM1072 429h1v2h-1zM1073 431h1v2h-1zM1074 433h1v2h-1zM1075 435h1v2h-1zM1076 437h1v1h-1zM1077 438h1v2h-1zM1078 440h1v2h-1zM1079 442h1v2h-1zM1080 444h1v4h-1zM1081 448h1v4h-1zM1082 452h1v4h-1zM1083 456h1v4h-1zM1084 460h1v4h-1zM1085 464h1v4h-1zM1086 468h1v4h-1zM1087 472h1v4h-1zM1088 476h1v5h-1zM1089 481h1v4h-1zM1090 485h1v4h-1zM1091 489h1v4h-1zM1092 493h1v3h-1zM1093 496h1v2h-1zM1094 498h1v2h-1zM1095 500h1v2h-1zM1096 502h1v3h-1zM1097 505h1v2h-1zM1098 507h1v2h-1zM1099 509h1v2h-1zM1100 511h1v3h-1zM1101 514h1v2h-1zM1102 516h1v2h-1zM1103 518h1v2h-1zM1104 520h1v2h-1zM1105 522h1v2h-1zM1106 524h1v1h-1zM1107 525h1v2h-1zM1108 527h1v1h-1zM1109 528h1v1h-1zM1110 529h1v1h-1zM1111 530h1v1h-1zM1112 531h1v1h-1zM1116 531h1v2h-1zM1117 527h1v4h-1zM1118 523h1v4h-1zM1119 519h1v4h-1zM1120 515h1v4h-1zM1121 512h1v3h-1zM1122 508h1v4h-1zM1123 505h1v3h-1zM1124 502h1v3h-1zM1125 498h1v4h-1zM1126 495h1v3h-1zM1127 491h1v4h-1zM1128 488h1v3h-1zM1129 485h1v3h-1zM1130 481h1v4h-1zM1131 478h1v3h-1zM1132 475h1v3h-1zM1133 473h1v2h-1zM1134 470h1v3h-1zM1135 468h1v2h-1zM1136 466h1v1h-1zM1138 468h1v1h-1zM1139 469h1v1h-1zM1140 470h1v1h-1zM1141 468h1v2h-1zM1142 467h1v1h-1zM1143 465h1v2h-1zM1144 464h1v1h-1zM1145 463h1v1h-1zM1146 461h1v2h-1zM1147 460h1v1h-1zM1148 458h1v2h-1zM1149 455h1v3h-1zM1150 453h1v2h-1zM1151 450h1v3h-1zM1152 447h1v3h-1zM1153 443h1v4h-1zM1154 440h1v3h-1zM1155 436h1v4h-1zM1156 433h1v3h-1zM1157 431h1v2h-1zM1158 429h1v2h-1zM1159 427h1v2h-1zM1160 424h1v3h-1zM1161 422h1v2h-1zM1162 420h1v2h-1zM1163 418h1v2h-1zM1164 415h1v3h-1zM1165 412h1v3h-1zM1166 410h1v2h-1zM1167 407h1v3h-1zM1168 405h1v2h-1zM1169 403h1v2h-1zM1170 402h1v1h-1zM1171 400h1v2h-1zM1179 398h1v1h-1zM1180 397h1v1h-1zM1181 398h1v1h-1zM1184 400h1v1h-1zM1189 400h1v2h-1zM1190 398h1v2h-1zM1191 396h1v2h-1zM1192 394h1v2h-1zM1193 392h1v2h-1zM1194 390h1v2h-1zM1195 388h1v2h-1zM1196 386h1v2h-1zM1197 384h1v2h-1zM1198 382h1v2h-1zM1199 380h1v2h-1zM1200 377h1v3h-1zM1201 373h1v4h-1zM1202 370h1v3h-1zM1203 366h1v4h-1zM1204 363h1v3h-1zM1205 360h1v3h-1zM1206 356h1v4h-1zM1207 353h1v3h-1zM1208 352h1v1h-1zM1225 354h1v1h-1zM1226 355h1v2h-1zM1227 357h1v1h-1zM1236 354h1v1h-1zM1237 356h1v2h-1zM1238 358h1v2h-1zM1239 360h1v2h-1zM1240 362h1v3h-1zM1241 365h1v4h-1zM1242 369h1v4h-1zM1243 373h1v4h-1zM1244 377h1v3h-1zM1249 382h1v2h-1zM1250 384h1v2h-1zM1251 386h1v2h-1zM1252 388h1v3h-1zM1253 391h1v3h-1zM1254 394h1v2h-1zM1255 396h1v3h-1zM1256 399h1v1h-1z"/>
<path fill="#ff0000" d="M93 120h2v1h-2zM95 121h2v1h-2zM604 209h2v1h-2zM606 210h4v1h-4zM610 211h3v1h-3zM613 212h2v1h-2zM615 213h2v1h-2zM618 215h2v1h-2zM594 221h2v1h-2zM525 222h2v1h-2zM592 222h2v1h-2zM527 223h2v1h-2zM553 224h2v1h-2zM559 224h3v1h-3zM555 225h4v1h-4zM562 225h4v1h-4zM539 226h3v1h-3zM566 226h8v1h-8zM532 227h7v1h-7zM542 227h7v1h-7zM574 227h3v1h-3zM585 228h2v1h-2zM578 229h2v1h-2zM583 229h2v1h-2zM580 230h3v1h-3zM505 243h2v1h-2zM494 256h2v1h-2zM492 257h2v1h-2zM411 280h2v1h-2zM408 281h3v1h-3zM405 283h2v1h-2zM395 286h2v1h-2zM388 287h7v1h-7zM397 287h2v1h-2zM399 288h2v1h-2zM385 289h2v1h-2zM355 291h3v1h-3zM382 291h2v1h-2zM344 292h11v1h-11zM358 292h4v1h-4zM380 292h2v1h-2zM362 293h4v1h-4zM378 293h2v1h-2zM366 294h4v1h-4zM375 294h3v1h-3zM370 295h5v1h-5zM424 296h5v1h-5zM458 301h2v1h-2zM461 301h2v1h-2zM467 301h2v1h-2zM456 302h2v1h-2zM463 302h4v1h-4zM453 304h2v1h-2zM451 305h2v1h-2zM439 306h12v1h-12zM436 307h3v1h-3zM23 329h2v1h-2zM20 330h3v1h-3zM921 346h2v1h-2zM926 346h2v1h-2zM909 349h2v1h-2zM917 349h2v1h-2zM911 350h6v1h-6zM1050 355h2v1h-2zM1048 356h2v1h-2zM897 358h2v1h-2zM1045 358h2v1h-2zM1239 360h2v1h-2zM1041 361h2v1h-2zM1236 361h3v1h-3zM1242 362h2v1h-2zM167 363h14v1h-14zM1038 363h2v1h-2zM1244 363h2v1h-2zM164 364h3v1h-3zM1036 364h2v1h-2zM1246 364h3v1h-3zM182 365h2v1h-2zM884 365h2v1h-2zM889 365h2v1h-2zM1249 365h2v1h-2zM161 366h2v1h-2zM886 366h3v1h-3zM1061 366h2v1h-2zM1251 366h2v1h-2zM881 367h2v1h-2zM1063 367h2v1h-2zM1065 368h2v1h-2zM1254 368h2v1h-2zM157 369h2v1h-2zM1030 369h2v1h-2zM1067 369h2v1h-2zM1028 370h2v1h-2zM1227 370h2v1h-2zM1070 371h2v1h-2zM1224 371h3v1h-3zM1222 372h2v1h-2zM1220 373h2v1h-2zM1010 375h2v1h-2zM1013 375h2v1h-2zM1217 375h2v1h-2zM1008 376h2v1h-2zM1015 376h2v1h-2zM1018 378h2v1h-2zM260 387h5v1h-5zM257 389h2v1h-2zM253 392h2v1h-2zM954 392h2v1h-2zM957 394h2v1h-2zM959 395h3v1h-3zM962 396h3v1h-3zM966 398h2v1h-2zM973 404h2v1h-2zM975 405h2v1h-2zM986 407h2v1h-2zM983 408h3v1h-3zM980 409h3v1h-3zM849 416h2v1h-2zM287 418h3v1h-3zM294 418h2v1h-2zM284 419h3v1h-3zM290 419h4v1h-4zM845 419h2v1h-2zM227 424h3v1h-3zM233 424h2v1h-2zM224 425h3v1h-3zM230 425h3v1h-3zM221 427h2v1h-2zM1174 434h2v1h-2zM1172 435h2v1h-2zM1118 496h2v1h-2zM1122 499h2v1h-2zM1138 501h2v1h-2zM1126 502h2v1h-2zM1131 502h7v1h-7zM1128 503h3v1h-3zM750 522h2v1h-2zM787 523h2v1h-2zM753 524h2v1h-2zM784 524h3v1h-3zM755 525h2v1h-2zM781 526h2v1h-2zM777 529h2v1h-2zM760 530h2v1h-2zM771 530h6v1h-6zM762 531h9v1h-9zM4 359h1v1h-1zM5 357h1v2h-1zM6 355h1v2h-1zM7 353h1v2h-1zM8 350h1v3h-1zM9 347h1v3h-1zM10 344h1v3h-1zM11 341h1v3h-1zM12 339h1v2h-1zM13 338h1v1h-1zM14 336h1v2h-1zM15 335h1v1h-1zM16 334h1v1h-1zM17 333h1v1h-1zM18 332h1v1h-1zM19 331h1v1h-1zM25 328h1v1h-1zM26 327h1v1h-1zM27 326h1v1h-1zM28 325h1v1h-1zM29 323h1v2h-1zM30 322h1v1h-1zM31 320h1v2h-1zM32 318h1v2h-1zM33 316h1v2h-1zM34 314h1v2h-1zM35 312h1v2h-1zM36 309h1v3h-1zM37 305h1v4h-1zM38 302h1v3h-1zM39 298h1v4h-1zM40 295h1v3h-1zM41 291h1v4h-1zM42 287h1v4h-1zM43 283h1v4h-1zM44 280h1v3h-1zM45 278h1v2h-1zM46 275h1v3h-1zM47 273h1v2h-1zM48 270h1v3h-1zM49 268h1v2h-1zM50 265h1v3h-1zM51 263h1v2h-1zM52 259h1v4h-1zM53 255h1v4h-1zM54 251h1v4h-1zM55 247h1v4h-1zM56 242h1v5h-1zM57 238h1v4h-1zM58 233h1v5h-1zM59 229h1v4h-1zM60 225h1v4h-1zM61 222h1v3h-1zM62 219h1v3h-1zM63 216h1v3h-1zM64 213h1v3h-1zM65 210h1v3h-1zM66 206h1v4h-1zM67 203h1v3h-1zM68 199h1v4h-1zM69 195h1v4h-1zM70 190h1v5h-1zM71 186h1v4h-1zM72 181h1v5h-1zM73 177h1v4h-1zM74 173h1v4h-1zM75 169h1v4h-1zM76 165h1v4h-1zM77 161h1v4h-1zM78 157h1v4h-1zM79 153h1v4h-1zM80 149h1v4h-1zM81 145h1v4h-1zM82 142h1v3h-1zM83 138h1v4h-1zM84 135h1v3h-1zM85 132h1v3h-1zM86 128h1v4h-1zM87 125h1v3h-1zM88 123h1v2h-1zM89 122h1v1h-1zM90 121h1v1h-1zM91 120h1v1h-1zM92 119h1v1h-1zM97 122h1v1h-1zM98 123h1v2h-1zM99 125h1v1h-1zM100 126h1v2h-1zM101 128h1v4h-1zM102 132h1v3h-1zM103 135h1v4h-1zM104 139h1v4h-1zM105 143h1v4h-1zM106 147h1v4h-1zM107 151h1v4h-1zM108 155h1v5h-1zM109 160h1v5h-1zM110 165h1v6h-1zM111 171h1v5h-1zM112 176h1v5h-1zM113 181h1v5h-1zM114 186h1v5h-1zM115 191h1v5h-1zM116 196h1v5h-1zM117 201h1v5h-1zM118 206h1v6h-1zM119 212h1v5h-1zM120 217h1v5h-1zM121 222h1v5h-1zM122 227h1v6h-1zM123 233h1v5h-1zM124 238h1v5h-1zM125 243h1v5h-1zM126 248h1v6h-1zM127 254h1v5h-1zM128 259h1v5h-1zM129 264h1v6h-1zM130 270h1v6h-1zM131 276h1v6h-1zM132 282h1v5h-1zM133 287h1v6h-1zM134 293h1v6h-1zM135 299h1v6h-1zM136 305h1v5h-1zM137 310h1v5h-1zM138 315h1v4h-1zM139 319h1v5h-1zM140 324h1v5h-1zM141 329h1v5h-1zM142 334h1v6h-1zM143 340h1v5h-1zM144 345h1v4h-1zM145 349h1v4h-1zM146 353h1v3h-1zM147 356h1v4h-1zM148 360h1v2h-1zM149 362h1v1h-1zM150 363h1v2h-1zM151 365h1v1h-1zM152 366h1v1h-1zM153 367h1v1h-1zM154 368h1v1h-1zM155 369h1v1h-1zM156 370h1v1h-1zM159 368h1v1h-1zM160 367h1v1h-1zM163 365h1v1h-1zM181 364h1v1h-1zM184 366h1v1h-1zM185 367h1v2h-1zM186 369h1v2h-1zM187 371h1v2h-1zM188 373h1v1h-1zM189 374h1v2h-1zM190 376h1v2h-1zM191 378h1v2h-1zM192 380h1v3h-1zM193 383h1v3h-1zM194 386h1v3h-1zM195 389h1v3h-1zM196 392h1v2h-1zM197 394h1v2h-1zM198 396h1v2h-1zM199 398h1v2h-1zM200 400h1v2h-1zM201 402h1v2h-1zM202 404h1v2h-1zM203 406h1v2h-1zM204 408h1v2h-1zM205 410h1v2h-1zM206 412h1v1h-1zM207 413h1v2h-1zM208 415h1v1h-1zM209 416h1v1h-1zM210 417h1v1h-1zM211 418h1v1h-1zM212 419h1v1h-1zM213 420h1v1h-1zM214 421h1v2h-1zM215 423h1v1h-1zM216 424h1v1h-1zM217 425h1v1h-1zM218 426h1v1h-1zM219 427h1v1h-1zM220 428h1v1h-1zM223 426h1v1h-1zM235 423h1v1h-1zM236 422h1v1h-1zM237 421h1v1h-1zM238 420h1v1h-1zM239 419h1v1h-1zM240 418h1v1h-1zM241 416h1v2h-1zM242 414h1v2h-1zM243 412h1v2h-1zM244 411h1v1h-1zM245 409h1v2h-1zM246 407h1v2h-1zM247 405h1v2h-1zM248 402h1v3h-1zM249 400h1v2h-1zM250 397h1v3h-1zM251 395h1v2h-1zM252 393h1v2h-1zM255 391h1v1h-1zM256 390h1v1h-1zM259 388h1v1h-1zM265 388h1v2h-1zM266 390h1v2h-1zM267 392h1v2h-1zM268 394h1v1h-1zM269 395h1v2h-1zM270 397h1v1h-1zM271 398h1v2h-1zM272 400h1v1h-1zM273 401h1v1h-1zM274 402h1v1h-1zM275 403h1v1h-1zM276 404h1v2h-1zM277 406h1v2h-1zM278 408h1v3h-1zM279 411h1v2h-1zM280 413h1v2h-1zM281 415h1v1h-1zM282 416h1v2h-1zM283 418h1v1h-1zM296 417h1v1h-1zM297 415h1v2h-1zM298 414h1v1h-1zM299 412h1v2h-1zM300 410h1v2h-1zM301 408h1v2h-1zM302 405h1v3h-1zM303 403h1v2h-1zM304 400h1v3h-1zM305 397h1v3h-1zM306 395h1v2h-1zM307 392h1v3h-1zM308 389h1v3h-1zM309 385h1v4h-1zM310 381h1v4h-1zM311 377h1v4h-1zM312 374h1v3h-1zM313 371h1v3h-1zM314 367h1v4h-1zM315 364h1v3h-1zM316 361h1v3h-1zM317 357h1v4h-1zM318 354h1v3h-1zM319 350h1v4h-1zM320 347h1v3h-1zM321 343h1v4h-1zM322 340h1v3h-1zM323 336h1v4h-1zM324 334h1v2h-1zM325 332h1v2h-1zM326 330h1v2h-1zM327 328h1v2h-1zM328 326h1v2h-1zM329 324h1v2h-1zM330 322h1v2h-1zM331 320h1v2h-1zM332 318h1v2h-1zM333 315h1v3h-1zM334 313h1v2h-1zM335 310h1v3h-1zM336 307h1v3h-1zM337 305h1v2h-1zM338 302h1v3h-1zM339 300h1v2h-1zM340 298h1v2h-1zM341 296h1v2h-1zM342 295h1v1h-1zM343 293h1v2h-1zM384 290h1v1h-1zM387 288h1v1h-1zM401 287h1v1h-1zM402 286h1v1h-1zM403 285h1v1h-1zM404 284h1v1h-1zM407 282h1v1h-1zM413 281h1v1h-1zM414 282h1v2h-1zM415 284h1v1h-1zM416 285h1v1h-1zM417 286h1v1h-1zM418 287h1v2h-1zM419 289h1v1h-1zM420 290h1v1h-1zM421 291h1v2h-1zM422 293h1v1h-1zM423 294h1v2h-1zM429 297h1v2h-1zM430 299h1v1h-1zM431 300h1v2h-1zM432 302h1v1h-1zM433 303h1v1h-1zM434 304h1v2h-1zM435 306h1v1h-1zM455 303h1v1h-1zM460 300h1v1h-1zM468 300h1v1h-1zM469 298h1v2h-1zM470 296h1v2h-1zM471 294h1v2h-1zM472 291h1v3h-1zM473 289h1v2h-1zM474 286h1v3h-1zM475 284h1v2h-1zM476 282h1v2h-1zM477 280h1v2h-1zM478 278h1v2h-1zM479 276h1v2h-1zM480 274h1v2h-1zM481 273h1v1h-1zM482 271h1v2h-1zM483 270h1v1h-1zM484 269h1v1h-1zM485 267h1v2h-1zM486 266h1v1h-1zM487 264h1v2h-1zM488 263h1v1h-1zM489 261h1v2h-1zM490 260h1v1h-1zM491 258h1v2h-1zM496 255h1v1h-1zM497 253h1v2h-1zM498 251h1v2h-1zM499 249h1v2h-1zM500 248h1v1h-1zM501 247h1v1h-1zM502 246h1v1h-1zM503 245h1v1h-1zM504 244h1v1h-1zM507 242h1v1h-1zM508 241h1v1h-1zM509 240h1v1h-1zM510 238h1v2h-1zM511 237h1v1h-1zM512 236h1v1h-1zM513 235h1v1h-1zM514 233h1v2h-1zM515 232h1v1h-1zM516 231h1v1h-1zM517 229h1v2h-1zM518 228h1v1h-1zM519 226h1v2h-1zM520 225h1v1h-1zM521 224h1v1h-1zM522 223h1v1h-1zM523 222h1v1h-1zM524 221h1v1h-1zM529 224h1v1h-1zM530 225h1v1h-1zM531 226h1v1h-1zM549 226h1v1h-1zM550 225h1v1h-1zM551 224h1v1h-1zM552 223h1v1h-1zM577 228h1v1h-1zM587 227h1v1h-1zM588 226h1v1h-1zM589 225h1v1h-1zM590 224h1v1h-1zM591 223h1v1h-1zM596 220h1v1h-1zM597 218h1v2h-1zM598 217h1v1h-1zM599 215h1v2h-1zM600 214h1v1h-1zM601 213h1v1h-1zM602 211h1v2h-1zM603 210h1v1h-1zM617 214h1v1h-1zM620 216h1v1h-1zM621 217h1v2h-1zM622 219h1v2h-1zM623 221h1v2h-1zM624 223h1v2h-1zM625 225h1v3h-1zM626 228h1v3h-1zM627 231h1v3h-1zM628 234h1v3h-1zM629 237h1v3h-1zM630 240h1v2h-1zM631 242h1v3h-1zM632 245h1v3h-1zM633 248h1v2h-1zM634 250h1v2h-1zM635 252h1v2h-1zM636 254h1v2h-1zM637 256h1v2h-1zM638 258h1v2h-1zM639 260h1v2h-1zM640 262h1v2h-1zM641 264h1v2h-1zM642 266h1v2h-1zM643 268h1v2h-1zM644 270h1v3h-1zM645 273h1v2h-1zM646 275h1v2h-1zM647 277h1v2h-1zM648 279h1v2h-1zM649 281h1v1h-1zM650 282h1v2h-1zM651 284h1v1h-1zM652 285h1v1h-1zM653 286h1v2h-1zM654 288h1v2h-1zM655 290h1v2h-1zM656 292h1v1h-1zM657 293h1v2h-1zM658 295h1v2h-1zM659 297h1v2h-1zM660 299h1v1h-1zM661 300h1v2h-1zM662 302h1v1h-1zM663 303h1v2h-1zM664 305h1v2h-1zM665 307h1v3h-1zM666 310h1v4h-1zM667 314h1v3h-1zM668 317h1v3h-1zM669 320h1v2h-1zM670 322h1v3h-1zM671 325h1v2h-1zM672 327h1v3h-1zM673 330h1v2h-1zM674 332h1v3h-1zM675 335h1v2h-1zM676 337h1v2h-1zM677 339h1v1h-1zM678 340h1v2h-1zM679 342h1v1h-1zM680 343h1v1h-1zM681 344h1v2h-1zM682 346h1v2h-1zM683 348h1v2h-1zM684 350h1v1h-1zM685 351h1v2h-1zM686 353h1v2h-1zM687 355h1v2h-1zM688 357h1v3h-1zM689 360h1v2h-1zM690 362h1v3h-1zM691 365h1v2h-1zM692 367h1v3h-1zM693 370h1v3h-1zM694 373h1v3h-1zM695 376h1v3h-1zM696 379h1v3h-1zM697 382h1v4h-1zM698 386h1v4h-1zM699 390h1v4h-1zM700 394h1v3h-1zM701 397h1v4h-1zM702 401h1v4h-1zM703 405h1v4h-1zM704 409h1v4h-1zM705 413h1v4h-1zM706 417h1v4h-1zM707 421h1v4h-1zM708 425h1v5h-1zM709 430h1v5h-1zM710 435h1v4h-1zM711 439h1v5h-1zM712 444h1v5h-1zM713 449h1v5h-1zM714 454h1v5h-1zM715 459h1v5h-1zM716 464h1v4h-1zM717 468h1v4h-1zM718 472h1v4h-1zM719 476h1v4h-1zM720 480h1v2h-1zM721 482h1v2h-1zM722 484h1v2h-1zM723 486h1v2h-1zM724 488h1v1h-1zM725 489h1v2h-1zM726 491h1v2h-1zM727 493h1v2h-1zM728 495h1v1h-1zM729 496h1v1h-1zM730 497h1v2h-1zM731 499h1v1h-1zM732 500h1v1h-1zM733 501h1v2h-1zM734 503h1v1h-1zM735 504h1v2h-1zM736 506h1v1h-1zM737 507h1v1h-1zM738 508h1v2h-1zM739 510h1v1h-1zM740 511h1v1h-1zM741 512h1v1h-1zM742 513h1v1h-1zM743 514h1v1h-1zM744 515h1v1h-1zM745 516h1v1h-1zM746 517h1v2h-1zM747 519h1v1h-1zM748 520h1v1h-1zM749 521h1v1h-1zM752 523h1v1h-1zM757 526h1v1h-1zM758 527h1v2h-1zM759 529h1v1h-1zM779 528h1v1h-1zM780 527h1v1h-1zM783 525h1v1h-1zM789 522h1v1h-1zM790 520h1v2h-1zM791 519h1v1h-1zM792 518h1v1h-1zM793 516h1v2h-1zM794 515h1v1h-1zM795 513h1v2h-1zM796 512h1v1h-1zM797 510h1v2h-1zM798 509h1v1h-1zM799 507h1v2h-1zM800 506h1v1h-1zM801 504h1v2h-1zM802 502h1v2h-1zM803 500h1v2h-1zM804 498h1v2h-1zM805 496h1v2h-1zM806 494h1v2h-1zM807 492h1v2h-1zM808 490h1v2h-1zM809 488h1v2h-1zM810 486h1v2h-1zM811 484h1v2h-1zM812 481h1v3h-1zM813 479h1v2h-1zM814 476h1v3h-1zM815 474h1v2h-1zM816 472h1v2h-1zM817 470h1v2h-1zM818 468h1v2h-1zM819 466h1v2h-1zM820 465h1v1h-1zM821 463h1v2h-1zM822 461h1v2h-1zM823 459h1v2h-1zM824 457h1v2h-1zM825 454h1v3h-1zM826 452h1v2h-1zM827 449h1v3h-1zM828 446h1v3h-1zM829 443h1v3h-1zM830 440h1v3h-1zM831 437h1v3h-1zM832 435h1v2h-1zM833 433h1v2h-1zM834 432h1v1h-1zM835 430h1v2h-1zM836 429h1v1h-1zM837 428h1v1h-1zM838 426h1v2h-1zM839 425h1v1h-1zM840 424h1v1h-1zM841 423h1v1h-1zM842 422h1v1h-1zM843 421h1v1h-1zM844 420h1v1h-1zM847 418h1v1h-1zM848 417h1v1h-1zM851 415h1v1h-1zM852 413h1v2h-1zM853 411h1v2h-1zM854 409h1v2h-1zM855 407h1v2h-1zM856 404h1v3h-1zM857 402h1v2h-1zM858 400h1v2h-1zM859 398h1v2h-1zM860 396h1v2h-1zM861 394h1v2h-1zM862 392h1v2h-1zM863 390h1v2h-1zM864 388h1v2h-1zM865 387h1v1h-1zM866 386h1v1h-1zM867 385h1v1h-1zM868 384h1v1h-1zM869 383h1v1h-1zM870 381h1v2h-1zM871 380h1v1h-1zM872 379h1v1h-1zM873 377h1v2h-1zM874 375h1v2h-1zM875 373h1v2h-1zM876 372h1v1h-1zM877 371h1v1h-1zM878 370h1v1h-1zM879 369h1v1h-1zM880 368h1v1h-1zM883 366h1v1h-1zM891 364h1v1h-1zM892 363h1v1h-1zM893 362h1v1h-1zM894 361h1v1h-1zM895 360h1v1h-1zM896 359h1v1h-1zM899 357h1v1h-1zM900 356h1v1h-1zM901 355h1v1h-1zM902 354h1v1h-1zM903 353h1v1h-1zM904 352h1v1h-1zM905 351h1v1h-1zM906 350h1v1h-1zM907 349h1v1h-1zM908 348h1v1h-1zM919 348h1v1h-1zM920 347h1v1h-1zM923 345h1v1h-1zM924 344h1v1h-1zM925 345h1v1h-1zM928 347h1v1h-1zM929 348h1v1h-1zM930 349h1v2h-1zM931 351h1v1h-1zM932 352h1v1h-1zM933 353h1v2h-1zM934 355h1v2h-1zM935 357h1v2h-1zM936 359h1v1h-1zM937 360h1v2h-1zM938 362h1v2h-1zM939 364h1v2h-1zM940 366h1v2h-1zM941 368h1v2h-1zM942 370h1v3h-1zM943 373h1v2h-1zM944 375h1v3h-1zM945 378h1v2h-1zM946 380h1v2h-1zM947 382h1v2h-1zM948 384h1v2h-1zM949 386h1v1h-1zM950 387h1v2h-1zM951 389h1v1h-1zM952 390h1v1h-1zM953 391h1v1h-1zM956 393h1v1h-1zM965 397h1v1h-1zM968 399h1v1h-1zM969 400h1v1h-1zM970 401h1v1h-1zM971 402h1v1h-1zM972 403h1v1h-1zM977 406h1v1h-1zM978 407h1v1h-1zM979 408h1v1h-1zM988 406h1v1h-1zM989 404h1v2h-1zM990 403h1v1h-1zM991 401h1v2h-1zM992 400h1v1h-1zM993 399h1v1h-1zM994 397h1v2h-1zM995 396h1v1h-1zM996 395h1v1h-1zM997 393h1v2h-1zM998 391h1v2h-1zM999 389h1v2h-1zM1000 387h1v2h-1zM1001 385h1v2h-1zM1002 383h1v2h-1zM1003 381h1v2h-1zM1004 380h1v1h-1zM1005 379h1v1h-1zM1006 378h1v1h-1zM1007 377h1v1h-1zM1012 374h1v1h-1zM1017 377h1v1h-1zM1020 379h1v1h-1zM1021 378h1v1h-1zM1022 377h1v1h-1zM1023 376h1v1h-1zM1024 375h1v1h-1zM1025 374h1v1h-1zM1026 372h1v2h-1zM1027 371h1v1h-1zM1032 368h1v1h-1zM1033 367h1v1h-1zM1034 366h1v1h-1zM1035 365h1v1h-1zM1040 362h1v1h-1zM1043 360h1v1h-1zM1044 359h1v1h-1zM1047 357h1v1h-1zM1052 354h1v1h-1zM1053 355h1v2h-1zM1054 357h1v1h-1zM1055 358h1v2h-1zM1056 360h1v1h-1zM1057 361h1v1h-1zM1058 362h1v2h-1zM1059 364h1v1h-1zM1060 365h1v1h-1zM1069 370h1v1h-1zM1072 372h1v1h-1zM1073 373h1v2h-1zM1074 375h1v1h-1zM1075 376h1v2h-1zM1076 378h1v2h-1zM1077 380h1v2h-1zM1078 382h1v3h-1zM1079 385h1v2h-1zM1080 387h1v3h-1zM1081 390h1v3h-1zM1082 393h1v3h-1zM1083 396h1v3h-1zM1084 399h1v3h-1zM1085 402h1v3h-1zM1086 405h1v4h-1zM1087 409h1v3h-1zM1088 412h1v3h-1zM1089 415h1v4h-1zM1090 419h1v3h-1zM1091 422h1v4h-1zM1092 426h1v3h-1zM1093 429h1v3h-1zM1094 432h1v3h-1zM1095 435h1v3h-1zM1096 438h1v3h-1zM1097 441h1v4h-1zM1098 445h1v4h-1zM1099 449h1v4h-1zM1100 453h1v3h-1zM1101 456h1v4h-1zM1102 460h1v4h-1zM1103 464h1v4h-1zM1104 468h1v3h-1zM1105 471h1v3h-1zM1106 474h1v4h-1zM1107 478h1v3h-1zM1108 481h1v2h-1zM1109 483h1v2h-1zM1110 485h1v1h-1zM1111 486h1v2h-1zM1112 488h1v1h-1zM1113 489h1v2h-1zM1114 491h1v1h-1zM1115 492h1v2h-1zM1116 494h1v1h-1zM1117 495h1v1h-1zM1120 497h1v1h-1zM1121 498h1v1h-1zM1124 500h1v1h-1zM1125 501h1v1h-1zM1140 500h1v1h-1zM1141 499h1v1h-1zM1142 497h1v2h-1zM1143 496h1v1h-1zM1144 495h1v1h-1zM1145 494h1v1h-1zM1146 492h1v2h-1zM1147 491h1v1h-1zM1148 490h1v1h-1zM1149 488h1v2h-1zM1150 486h1v2h-1zM1151 484h1v2h-1zM1152 482h1v2h-1zM1153 480h1v2h-1zM1154 478h1v2h-1zM1155 476h1v2h-1zM1156 473h1v3h-1zM1157 471h1v2h-1zM1158 469h1v2h-1zM1159 467h1v2h-1zM1160 464h1v3h-1zM1161 462h1v2h-1zM1162 459h1v3h-1zM1163 457h1v2h-1zM1164 454h1v3h-1zM1165 452h1v2h-1zM1166 449h1v3h-1zM1167 447h1v2h-1zM1168 444h1v3h-1zM1169 442h1v2h-1zM1170 439h1v3h-1zM1171 437h1v2h-1zM1172 436h1v1h-1zM1176 433h1v1h-1zM1177 432h1v1h-1zM1178 430h1v2h-1zM1179 429h1v1h-1zM1180 428h1v1h-1zM1181 427h1v1h-1zM1182 426h1v1h-1zM1183 425h1v1h-1zM1184 424h1v1h-1zM1185 423h1v1h-1zM1186 421h1v2h-1zM1187 420h1v1h-1zM1188 418h1v2h-1zM1189 416h1v2h-1zM1190 414h1v2h-1zM1191 412h1v2h-1zM1192 410h1v2h-1zM1193 408h1v2h-1zM1194 406h1v2h-1zM1195 404h1v2h-1zM1196 403h1v1h-1zM1197 401h1v2h-1zM1198 400h1v1h-1zM1199 398h1v2h-1zM1200 397h1v1h-1zM1201 395h1v2h-1zM1202 393h1v2h-1zM1203 391h1v2h-1zM1204 390h1v1h-1zM1205 388h1v2h-1zM1206 387h1v1h-1zM1207 385h1v2h-1zM1208 384h1v1h-1zM1209 383h1v1h-1zM1210 382h1v1h-1zM1211 381h1v1h-1zM1212 380h1v1h-1zM1213 379h1v1h-1zM1214 378h1v1h-1zM1215 377h1v1h-1zM1216 376h1v1h-1zM1219 374h1v1h-1zM1229 369h1v1h-1zM1230 367h1v2h-1zM1231 366h1v1h-1zM1232 365h1v1h-1zM1233 364h1v1h-1zM1234 363h1v1h-1zM1235 362h1v1h-1zM1241 361h1v1h-1zM1253 367h1v1h-1zM1256 369h1v1h-1zM1257 370h1v1h-1zM1258 371h1v1h-1zM1259 372h1v1h-1zM1260 373h1v1h-1z"/>
<path fill="#0000cd" d="M107 213h2v1h-2zM104 214h3v1h-3zM110 215h2v1h-2zM604 219h13v1h-13zM97 220h2v1h-2zM602 220h2v1h-2zM600 221h2v1h-2zM618 221h2v1h-2zM116 222h2v1h-2zM598 222h2v1h-2zM93 223h2v1h-2zM118 223h7v1h-7zM592 223h6v1h-6zM590 224h2v1h-2zM622 224h2v1h-2zM587 225h3v1h-3zM584 226h3v1h-3zM581 228h2v1h-2zM579 229h2v1h-2zM576 230h3v1h-3zM574 231h2v1h-2zM133 232h2v1h-2zM572 232h2v1h-2zM135 233h2v1h-2zM137 234h2v1h-2zM569 234h2v1h-2zM139 235h2v1h-2zM566 236h2v1h-2zM142 237h2v1h-2zM564 237h2v1h-2zM562 238h2v1h-2zM559 239h3v1h-3zM146 240h2v1h-2zM556 240h3v1h-3zM149 242h2v1h-2zM553 242h2v1h-2zM151 243h2v1h-2zM154 245h2v1h-2zM157 247h2v1h-2zM159 248h2v1h-2zM546 248h2v1h-2zM644 248h2v1h-2zM544 249h2v1h-2zM646 249h7v1h-7zM653 250h2v1h-2zM541 251h2v1h-2zM655 251h2v1h-2zM657 252h2v1h-2zM659 253h2v1h-2zM661 254h2v1h-2zM663 255h2v1h-2zM531 260h2v1h-2zM527 261h4v1h-4zM524 262h3v1h-3zM521 264h2v1h-2zM513 271h2v1h-2zM509 274h2v1h-2zM506 276h2v1h-2zM504 277h2v1h-2zM502 278h2v1h-2zM499 279h3v1h-3zM491 280h8v1h-8zM484 281h7v1h-7zM482 282h2v1h-2zM479 283h3v1h-3zM476 284h3v1h-3zM473 286h2v1h-2zM412 287h2v1h-2zM414 288h7v1h-7zM409 289h2v1h-2zM422 290h2v1h-2zM424 291h2v1h-2zM426 292h3v1h-3zM430 294h2v1h-2zM459 295h6v1h-6zM433 296h2v1h-2zM455 296h4v1h-4zM435 297h3v1h-3zM451 297h4v1h-4zM438 298h4v1h-4zM447 298h4v1h-4zM442 299h5v1h-5zM355 353h2v1h-2zM352 354h3v1h-3zM349 356h2v1h-2zM343 357h6v1h-6zM340 358h3v1h-3zM338 359h2v1h-2zM336 360h2v1h-2zM334 361h2v1h-2zM331 362h3v1h-3zM328 363h3v1h-3zM931 366h3v1h-3zM928 367h3v1h-3zM934 367h4v1h-4zM938 368h3v1h-3zM925 369h2v1h-2zM941 369h2v1h-2zM943 370h2v1h-2zM946 372h2v1h-2zM971 373h3v1h-3zM964 374h7v1h-7zM974 374h3v1h-3zM950 375h2v1h-2zM962 375h2v1h-2zM977 375h2v1h-2zM1068 375h5v1h-5zM952 376h2v1h-2zM959 376h3v1h-3zM979 376h11v1h-11zM1066 376h2v1h-2zM1073 376h2v1h-2zM954 377h5v1h-5zM990 377h3v1h-3zM1064 377h2v1h-2zM1075 377h2v1h-2zM993 378h2v1h-2zM1062 378h2v1h-2zM995 379h10v1h-10zM1055 379h7v1h-7zM1005 380h2v1h-2zM1051 380h4v1h-4zM1007 381h2v1h-2zM1048 381h3v1h-3zM1009 382h2v1h-2zM1032 382h6v1h-6zM1046 382h2v1h-2zM1011 383h3v1h-3zM1030 383h2v1h-2zM1038 383h8v1h-8zM909 384h2v1h-2zM1014 384h4v1h-4zM1023 384h7v1h-7zM1018 385h5v1h-5zM1259 386h2v1h-2zM1256 387h3v1h-3zM214 388h2v1h-2zM1253 389h2v1h-2zM236 391h10v1h-10zM246 392h7v1h-7zM1249 392h2v1h-2zM220 393h6v1h-6zM233 393h2v1h-2zM253 393h2v1h-2zM226 394h7v1h-7zM255 394h2v1h-2zM1245 395h2v1h-2zM258 396h2v1h-2zM897 396h2v1h-2zM1243 396h2v1h-2zM260 397h2v1h-2zM1239 397h4v1h-4zM262 398h3v1h-3zM1236 398h3v1h-3zM270 404h2v1h-2zM298 415h2v1h-2zM296 416h2v1h-2zM294 417h2v1h-2zM292 418h2v1h-2zM284 419h2v1h-2zM290 419h2v1h-2zM286 420h4v1h-4zM1117 427h2v1h-2zM1119 428h2v1h-2zM1125 433h2v1h-2zM1127 434h2v1h-2zM1130 436h2v1h-2zM1134 439h2v1h-2zM1137 441h2v1h-2zM1139 442h2v1h-2zM1142 444h2v1h-2zM1153 454h2v1h-2zM1155 455h2v1h-2zM1193 456h2v1h-2zM1158 457h2v1h-2zM1161 459h2v1h-2zM1189 459h2v1h-2zM1163 460h2v1h-2zM1187 460h2v1h-2zM1179 461h8v1h-8zM1166 462h2v1h-2zM1175 462h4v1h-4zM1168 463h7v1h-7zM850 468h2v1h-2zM848 469h2v1h-2zM837 479h2v1h-2zM822 497h2v1h-2zM820 498h2v1h-2zM817 500h2v1h-2zM785 504h2v1h-2zM787 505h3v1h-3zM790 506h4v1h-4zM810 506h2v1h-2zM794 507h4v1h-4zM807 507h3v1h-3zM798 508h9v1h-9zM4 400h1v2h-1zM5 398h1v2h-1zM6 396h1v2h-1zM7 394h1v2h-1zM8 392h1v2h-1zM9 390h1v2h-1zM10 388h1v2h-1zM11 386h1v2h-1zM12 385h1v1h-1zM13 383h1v2h-1zM14 381h1v2h-1zM15 379h1v2h-1zM16 378h1v1h-1zM17 377h1v1h-1zM18 375h1v2h-1zM19 374h1v1h-1zM20 373h1v1h-1zM21 372h1v1h-1zM22 370h1v2h-1zM23 369h1v1h-1zM24 368h1v1h-1zM25 367h1v1h-1zM26 365h1v2h-1zM27 364h1v1h-1zM28 363h1v1h-1zM29 362h1v1h-1zM30 361h1v1h-1zM31 360h1v1h-1zM32 359h1v1h-1zM33 358h1v1h-1zM34 356h1v2h-1zM35 355h1v1h-1zM36 354h1v1h-1zM37 353h1v1h-1zM38 351h1v2h-1zM39 350h1v1h-1zM40 349h1v1h-1zM41 347h1v2h-1zM42 345h1v2h-1zM43 343h1v2h-1zM44 341h1v2h-1zM45 339h1v2h-1zM46 337h1v2h-1zM47 335h1v2h-1zM48 332h1v3h-1zM49 329h1v3h-1zM50 326h1v3h-1zM51 323h1v3h-1zM52 320h1v3h-1zM53 317h1v3h-1zM54 314h1v3h-1zM55 311h1v3h-1zM56 308h1v3h-1zM57 305h1v3h-1zM58 303h1v2h-1zM59 300h1v3h-1zM60 297h1v3h-1zM61 295h1v2h-1zM62 293h1v2h-1zM63 291h1v2h-1zM64 288h1v3h-1zM65 286h1v2h-1zM66 283h1v3h-1zM67 281h1v2h-1zM68 278h1v3h-1zM69 276h1v2h-1zM70 273h1v3h-1zM71 271h1v2h-1zM72 268h1v3h-1zM73 265h1v3h-1zM74 262h1v3h-1zM75 259h1v3h-1zM76 256h1v3h-1zM77 254h1v2h-1zM78 251h1v3h-1zM79 249h1v2h-1zM80 246h1v3h-1zM81 244h1v2h-1zM82 241h1v3h-1zM83 239h1v2h-1zM84 237h1v2h-1zM85 235h1v2h-1zM86 233h1v2h-1zM87 231h1v2h-1zM88 229h1v2h-1zM89 228h1v1h-1zM90 226h1v2h-1zM91 225h1v1h-1zM92 224h1v1h-1zM95 222h1v1h-1zM96 221h1v1h-1zM99 219h1v1h-1zM100 218h1v1h-1zM101 217h1v1h-1zM102 216h1v1h-1zM103 215h1v1h-1zM109 214h1v1h-1zM112 216h1v1h-1zM113 217h1v2h-1zM114 219h1v1h-1zM115 220h1v2h-1zM125 224h1v1h-1zM126 225h1v1h-1zM127 226h1v1h-1zM128 227h1v1h-1zM129 228h1v1h-1zM130 229h1v1h-1zM131 230h1v1h-1zM132 231h1v1h-1zM141 236h1v1h-1zM144 238h1v1h-1zM145 239h1v1h-1zM148 241h1v1h-1zM153 244h1v1h-1zM156 246h1v1h-1zM161 249h1v1h-1zM162 250h1v1h-1zM163 251h1v1h-1zM164 252h1v1h-1zM165 253h1v2h-1zM166 255h1v2h-1zM167 257h1v2h-1zM168 259h1v3h-1zM169 262h1v2h-1zM170 264h1v3h-1zM171 267h1v2h-1zM172 269h1v2h-1zM173 271h1v2h-1zM174 273h1v2h-1zM175 275h1v2h-1zM176 277h1v3h-1zM177 280h1v2h-1zM178 282h1v2h-1zM179 284h1v2h-1zM180 286h1v3h-1zM181 289h1v3h-1zM182 292h1v2h-1zM183 294h1v3h-1zM184 297h1v3h-1zM185 300h1v3h-1zM186 303h1v4h-1zM187 307h1v3h-1zM188 310h1v3h-1zM189 313h1v4h-1zM190 317h1v4h-1zM191 321h1v4h-1zM192 325h1v3h-1zM193 328h1v4h-1zM194 332h1v4h-1zM195 336h1v4h-1zM196 340h1v3h-1zM197 343h1v4h-1zM198 347h1v3h-1zM199 350h1v4h-1zM200 354h1v3h-1zM201 357h1v3h-1zM202 360h1v4h-1zM203 364h1v3h-1zM204 367h1v3h-1zM205 370h1v3h-1zM206 373h1v3h-1zM207 376h1v3h-1zM208 379h1v2h-1zM209 381h1v2h-1zM210 383h1v1h-1zM211 384h1v2h-1zM212 386h1v1h-1zM213 387h1v1h-1zM216 389h1v1h-1zM217 390h1v1h-1zM218 391h1v1h-1zM219 392h1v1h-1zM235 392h1v1h-1zM257 395h1v1h-1zM265 399h1v1h-1zM266 400h1v1h-1zM267 401h1v1h-1zM268 402h1v1h-1zM269 403h1v1h-1zM272 405h1v1h-1zM273 406h1v1h-1zM274 407h1v1h-1zM275 408h1v1h-1zM276 409h1v1h-1zM277 410h1v2h-1zM278 412h1v1h-1zM279 413h1v2h-1zM280 415h1v1h-1zM281 416h1v1h-1zM282 417h1v1h-1zM283 418h1v1h-1zM300 414h1v1h-1zM301 412h1v2h-1zM302 411h1v1h-1zM303 409h1v2h-1zM304 408h1v1h-1zM305 406h1v2h-1zM306 404h1v2h-1zM307 402h1v2h-1zM308 399h1v3h-1zM309 397h1v2h-1zM310 395h1v2h-1zM311 393h1v2h-1zM312 390h1v3h-1zM313 388h1v2h-1zM314 386h1v2h-1zM315 384h1v2h-1zM316 382h1v2h-1zM317 380h1v2h-1zM318 378h1v2h-1zM319 376h1v2h-1zM320 374h1v2h-1zM321 372h1v2h-1zM322 370h1v2h-1zM323 368h1v2h-1zM324 367h1v1h-1zM325 366h1v1h-1zM326 365h1v1h-1zM327 364h1v1h-1zM351 355h1v1h-1zM357 352h1v1h-1zM358 351h1v1h-1zM359 350h1v1h-1zM360 349h1v1h-1zM361 348h1v1h-1zM362 347h1v1h-1zM363 346h1v1h-1zM364 345h1v1h-1zM365 344h1v1h-1zM366 342h1v2h-1zM367 341h1v1h-1zM368 340h1v1h-1zM369 339h1v1h-1zM370 338h1v1h-1zM371 337h1v1h-1zM372 336h1v1h-1zM373 334h1v2h-1zM374 332h1v2h-1zM375 330h1v2h-1zM376 329h1v1h-1zM377 327h1v2h-1zM378 326h1v1h-1zM379 324h1v2h-1zM380 323h1v1h-1zM381 322h1v1h-1zM382 320h1v2h-1zM383 319h1v1h-1zM384 318h1v1h-1zM385 316h1v2h-1zM386 315h1v1h-1zM387 313h1v2h-1zM388 312h1v1h-1zM389 311h1v1h-1zM390 310h1v1h-1zM391 309h1v1h-1zM392 308h1v1h-1zM393 307h1v1h-1zM394 305h1v2h-1zM395 304h1v1h-1zM396 303h1v1h-1zM397 302h1v1h-1zM398 301h1v1h-1zM399 300h1v1h-1zM400 299h1v1h-1zM401 298h1v1h-1zM402 296h1v2h-1zM403 295h1v1h-1zM404 294h1v1h-1zM405 293h1v1h-1zM406 292h1v1h-1zM407 291h1v1h-1zM408 290h1v1h-1zM411 288h1v1h-1zM421 289h1v1h-1zM429 293h1v1h-1zM432 295h1v1h-1zM465 294h1v1h-1zM466 293h1v1h-1zM467 292h1v1h-1zM468 291h1v1h-1zM469 290h1v1h-1zM470 289h1v1h-1zM471 288h1v1h-1zM472 287h1v1h-1zM475 285h1v1h-1zM508 275h1v1h-1zM511 273h1v1h-1zM512 272h1v1h-1zM515 270h1v1h-1zM516 269h1v1h-1zM517 268h1v1h-1zM518 267h1v1h-1zM519 266h1v1h-1zM520 265h1v1h-1zM523 263h1v1h-1zM533 259h1v1h-1zM534 258h1v1h-1zM535 257h1v1h-1zM536 256h1v1h-1zM537 255h1v1h-1zM538 254h1v1h-1zM539 253h1v1h-1zM540 252h1v1h-1zM543 250h1v1h-1zM548 247h1v1h-1zM549 246h1v1h-1zM550 245h1v1h-1zM551 244h1v1h-1zM552 243h1v1h-1zM555 241h1v1h-1zM568 235h1v1h-1zM571 233h1v1h-1zM583 227h1v1h-1zM617 220h1v1h-1zM620 222h1v1h-1zM621 223h1v1h-1zM624 225h1v1h-1zM625 226h1v1h-1zM626 227h1v2h-1zM627 229h1v1h-1zM628 230h1v1h-1zM629 231h1v1h-1zM630 232h1v2h-1zM631 234h1v1h-1zM632 235h1v1h-1zM633 236h1v1h-1zM634 237h1v2h-1zM635 239h1v1h-1zM636 240h1v1h-1zM637 241h1v1h-1zM638 242h1v1h-1zM639 243h1v1h-1zM640 244h1v1h-1zM641 245h1v1h-1zM642 246h1v1h-1zM643 247h1v1h-1zM665 256h1v2h-1zM666 258h1v1h-1zM667 259h1v2h-1zM668 261h1v1h-1zM669 262h1v2h-1zM670 264h1v2h-1zM671 266h1v2h-1zM672 268h1v1h-1zM673 269h1v2h-1zM674 271h1v1h-1zM675 272h1v2h-1zM676 274h1v1h-1zM677 275h1v2h-1zM678 277h1v2h-1zM679 279h1v2h-1zM680 281h1v1h-1zM681 282h1v2h-1zM682 284h1v2h-1zM683 286h1v2h-1zM684 288h1v1h-1zM685 289h1v2h-1zM686 291h1v2h-1zM687 293h1v2h-1zM688 295h1v3h-1zM689 298h1v2h-1zM690 300h1v3h-1zM691 303h1v2h-1zM692 305h1v3h-1zM693 308h1v2h-1zM694 310h1v3h-1zM695 313h1v2h-1zM696 315h1v3h-1zM697 318h1v2h-1zM698 320h1v2h-1zM699 322h1v2h-1zM700 324h1v3h-1zM701 327h1v2h-1zM702 329h1v2h-1zM703 331h1v2h-1zM704 333h1v3h-1zM705 336h1v2h-1zM706 338h1v2h-1zM707 340h1v2h-1zM708 342h1v3h-1zM709 345h1v3h-1zM710 348h1v4h-1zM711 352h1v3h-1zM712 355h1v3h-1zM713 358h1v3h-1zM714 361h1v3h-1zM715 364h1v3h-1zM716 367h1v3h-1zM717 370h1v3h-1zM718 373h1v2h-1zM719 375h1v3h-1zM720 378h1v3h-1zM721 381h1v3h-1zM722 384h1v3h-1zM723 387h1v3h-1zM724 390h1v3h-1zM725 393h1v2h-1zM726 395h1v3h-1zM727 398h1v2h-1zM728 400h1v2h-1zM729 402h1v2h-1zM730 404h1v2h-1zM731 406h1v2h-1zM732 408h1v3h-1zM733 411h1v2h-1zM734 413h1v2h-1zM735 415h1v2h-1zM736 417h1v2h-1zM737 419h1v2h-1zM738 421h1v2h-1zM739 423h1v2h-1zM740 425h1v2h-1zM741 427h1v2h-1zM742 429h1v1h-1zM743 430h1v2h-1zM744 432h1v1h-1zM745 433h1v2h-1zM746 435h1v2h-1zM747 437h1v2h-1zM748 439h1v1h-1zM749 440h1v2h-1zM750 442h1v1h-1zM751 443h1v2h-1zM752 445h1v1h-1zM753 446h1v2h-1zM754 448h1v2h-1zM755 450h1v2h-1zM756 452h1v1h-1zM757 453h1v2h-1zM758 455h1v2h-1zM759 457h1v2h-1zM760 459h1v1h-1zM761 460h1v2h-1zM762 462h1v1h-1zM763 463h1v2h-1zM764 465h1v1h-1zM765 466h1v2h-1zM766 468h1v2h-1zM767 470h1v2h-1zM768 472h1v3h-1zM769 475h1v2h-1zM770 477h1v3h-1zM771 480h1v2h-1zM772 482h1v2h-1zM773 484h1v2h-1zM774 486h1v2h-1zM775 488h1v2h-1zM776 490h1v1h-1zM777 491h1v2h-1zM778 493h1v2h-1zM779 495h1v2h-1zM780 497h1v1h-1zM781 498h1v2h-1zM782 500h1v1h-1zM783 501h1v2h-1zM784 503h1v1h-1zM812 505h1v1h-1zM813 504h1v1h-1zM814 503h1v1h-1zM815 502h1v1h-1zM816 501h1v1h-1zM819 499h1v1h-1zM824 496h1v1h-1zM825 495h1v1h-1zM826 494h1v1h-1zM827 493h1v1h-1zM828 492h1v1h-1zM829 490h1v2h-1zM830 488h1v2h-1zM831 486h1v2h-1zM832 485h1v1h-1zM833 484h1v1h-1zM834 482h1v2h-1zM835 481h1v1h-1zM836 480h1v1h-1zM839 478h1v1h-1zM840 477h1v1h-1zM841 476h1v1h-1zM842 475h1v1h-1zM843 474h1v1h-1zM844 473h1v1h-1zM845 472h1v1h-1zM846 471h1v1h-1zM847 470h1v1h-1zM852 467h1v1h-1zM853 465h1v2h-1zM854 464h1v1h-1zM855 462h1v2h-1zM856 461h1v1h-1zM857 459h1v2h-1zM858 457h1v2h-1zM859 455h1v2h-1zM860 454h1v1h-1zM861 452h1v2h-1zM862 451h1v1h-1zM863 449h1v2h-1zM864 448h1v1h-1zM865 446h1v2h-1zM866 444h1v2h-1zM867 442h1v2h-1zM868 441h1v1h-1zM869 439h1v2h-1zM870 437h1v2h-1zM871 435h1v2h-1zM872 434h1v1h-1zM873 432h1v2h-1zM874 430h1v2h-1zM875 428h1v2h-1zM876 426h1v2h-1zM877 424h1v2h-1zM878 423h1v1h-1zM879 421h1v2h-1zM880 420h1v1h-1zM881 418h1v2h-1zM882 417h1v1h-1zM883 415h1v2h-1zM884 414h1v1h-1zM885 412h1v2h-1zM886 411h1v1h-1zM887 409h1v2h-1zM888 408h1v1h-1zM889 406h1v2h-1zM890 405h1v1h-1zM891 403h1v2h-1zM892 402h1v1h-1zM893 401h1v1h-1zM894 399h1v2h-1zM895 398h1v1h-1zM896 397h1v1h-1zM899 395h1v1h-1zM900 394h1v1h-1zM901 393h1v1h-1zM902 391h1v2h-1zM903 390h1v1h-1zM904 389h1v1h-1zM905 388h1v1h-1zM906 387h1v1h-1zM907 386h1v1h-1zM908 385h1v1h-1zM911 383h1v1h-1zM912 382h1v1h-1zM913 381h1v1h-1zM914 380h1v1h-1zM915 379h1v1h-1zM916 378h1v1h-1zM917 377h1v1h-1zM918 376h1v1h-1zM919 375h1v1h-1zM920 374h1v1h-1zM921 373h1v1h-1zM922 372h1v1h-1zM923 371h1v1h-1zM924 370h1v1h-1zM927 368h1v1h-1zM945 371h1v1h-1zM948 373h1v1h-1zM949 374h1v1h-1zM1077 378h1v1h-1zM1078 379h1v1h-1zM1079 380h1v1h-1zM1080 381h1v1h-1zM1081 382h1v1h-1zM1082 383h1v1h-1zM1083 384h1v1h-1zM1084 385h1v1h-1zM1085 386h1v1h-1zM1086 387h1v1h-1zM1087 388h1v1h-1zM1088 389h1v1h-1zM1089 390h1v1h-1zM1090 391h1v2h-1zM1091 393h1v1h-1zM1092 394h1v1h-1zM1093 395h1v1h-1zM1094 396h1v2h-1zM1095 398h1v1h-1zM1096 399h1v1h-1zM1097 400h1v1h-1zM1098 401h1v2h-1zM1099 403h1v1h-1zM1100 404h1v1h-1zM1101 405h1v1h-1zM1102 406h1v2h-1zM1103 408h1v1h-1zM1104 409h1v1h-1zM1105 410h1v2h-1zM1106 412h1v1h-1zM1107 413h1v2h-1zM1108 415h1v1h-1zM1109 416h1v2h-1zM1110 418h1v1h-1zM1111 419h1v2h-1zM1112 421h1v1h-1zM1113 422h1v1h-1zM1114 423h1v2h-1zM1115 425h1v1h-1zM1116 426h1v1h-1zM1121 429h1v1h-1zM1122 430h1v1h-1zM1123 431h1v1h-1zM1124 432h1v1h-1zM1129 435h1v1h-1zM1132 437h1v1h-1zM1133 438h1v1h-1zM1136 440h1v1h-1zM1141 443h1v1h-1zM1144 445h1v1h-1zM1145 446h1v1h-1zM1146 447h1v1h-1zM1147 448h1v1h-1zM1148 449h1v1h-1zM1149 450h1v1h-1zM1150 451h1v1h-1zM1151 452h1v1h-1zM1152 453h1v1h-1zM1157 456h1v1h-1zM1160 458h1v1h-1zM1165 461h1v1h-1zM1191 458h1v1h-1zM1192 457h1v1h-1zM1195 455h1v1h-1zM1196 454h1v1h-1zM1197 453h1v1h-1zM1198 451h1v2h-1zM1199 450h1v1h-1zM1200 449h1v1h-1zM1201 448h1v1h-1zM1202 447h1v1h-1zM1203 446h1v1h-1zM1204 445h1v1h-1zM1205 443h1v2h-1zM1206 442h1v1h-1zM1207 440h1v2h-1zM1208 439h1v1h-1zM1209 437h1v2h-1zM1210 436h1v1h-1zM1211 434h1v2h-1zM1212 433h1v1h-1zM1213 432h1v1h-1zM1214 430h1v2h-1zM1215 429h1v1h-1zM1216 428h1v1h-1zM1217 427h1v1h-1zM1218 425h1v2h-1zM1219 424h1v1h-1zM1220 423h1v1h-1zM1221 421h1v2h-1zM1222 420h1v1h-1zM1223 418h1v2h-1zM1224 417h1v1h-1zM1225 415h1v2h-1zM1226 414h1v1h-1zM1227 412h1v2h-1zM1228 411h1v1h-1zM1229 409h1v2h-1zM1230 407h1v2h-1zM1231 405h1v2h-1zM1232 404h1v1h-1zM1233 402h1v2h-1zM1234 401h1v1h-1zM1235 399h1v2h-1zM1247 394h1v1h-1zM1248 393h1v1h-1zM1251 391h1v1h-1zM1252 390h1v1h-1zM1255 388h1v1h-1z"/>
<path fill="#ff0000" d="M5 134h1576v1h-1576zM4 135h1577v1h-1577z"/>
<path fill="#ff0000" d="M5 247h1576v1h-1576zM4 248h1577v1h-1577z"/>
<path fill="#00ff00" d="M5 369h1576v1h-1576zM4 370h1577v1h-1577z"/>
<path fill="#0000ff" d="M5 473h1576v1h-1576zM4 474h1577v1h-1577z"/>
<path fill="#0000ff" d="M5 575h1576v1h-1576zM4 576h1577v1h-1577z"/>
<path d="M5 624.5H1581" stroke="#c0c0c0" stroke-width="1" stroke-dasharray="3 3" fill="none"/>
<path d="M5 665.5H1581" stroke="#c0c0c0" stroke-width="1" stroke-dasharray="3 3" fill="none"/>
<path fill="#1e90ff" d="M68 622h2v1h-2zM79 622h2v1h-2zM66 623h2v1h-2zM70 623h9v1h-9zM52 624h2v1h-2zM63 624h3v1h-3zM831 624h2v1h-2zM50 625h2v1h-2zM54 625h9v1h-9zM48 626h2v1h-2zM307 627h6v1h-6zM86 628h2v1h-2zM304 628h3v1h-3zM314 629h2v1h-2zM1192 629h2v1h-2zM1206 629h2v1h-2zM316 630h5v1h-5zM473 630h2v1h-2zM856 630h5v1h-5zM1171 630h2v1h-2zM1203 630h3v1h-3zM1168 631h3v1h-3zM1199 631h4v1h-4zM1031 632h2v1h-2zM1166 632h2v1h-2zM1196 632h3v1h-3zM11 633h2v1h-2zM363 633h6v1h-6zM376 633h2v1h-2zM874 633h2v1h-2zM1028 633h3v1h-3zM1033 633h2v1h-2zM1164 633h2v1h-2zM1212 633h2v1h-2zM1234 633h2v1h-2zM8 634h3v1h-3zM38 634h2v1h-2zM298 634h2v1h-2zM360 634h3v1h-3zM378 634h3v1h-3zM480 634h5v1h-5zM523 634h2v1h-2zM600 634h5v1h-5zM814 634h2v1h-2zM817 634h2v1h-2zM872 634h2v1h-2zM1026 634h2v1h-2zM1035 634h2v1h-2zM1044 634h2v1h-2zM1154 634h2v1h-2zM1214 634h7v1h-7zM296 635h2v1h-2zM485 635h2v1h-2zM598 635h2v1h-2zM812 635h2v1h-2zM819 635h2v1h-2zM922 635h3v1h-3zM1024 635h2v1h-2zM1046 635h3v1h-3zM1152 635h2v1h-2zM1158 635h2v1h-2zM1161 635h2v1h-2zM1221 635h2v1h-2zM294 636h2v1h-2zM357 636h2v1h-2zM487 636h2v1h-2zM517 636h2v1h-2zM596 636h2v1h-2zM886 636h2v1h-2zM916 636h6v1h-6zM1223 636h6v1h-6zM23 637h10v1h-10zM292 637h2v1h-2zM513 637h2v1h-2zM519 637h2v1h-2zM794 637h2v1h-2zM822 637h2v1h-2zM865 637h2v1h-2zM884 637h2v1h-2zM1178 637h2v1h-2zM20 638h3v1h-3zM490 638h2v1h-2zM536 638h5v1h-5zM837 638h2v1h-2zM867 638h2v1h-2zM882 638h2v1h-2zM904 638h5v1h-5zM1176 638h2v1h-2zM18 639h2v1h-2zM236 639h2v1h-2zM408 639h5v1h-5zM572 639h2v1h-2zM839 639h2v1h-2zM849 639h2v1h-2zM880 639h2v1h-2zM892 639h2v1h-2zM909 639h2v1h-2zM963 639h2v1h-2zM1185 639h2v1h-2zM16 640h2v1h-2zM339 640h6v1h-6zM493 640h2v1h-2zM509 640h2v1h-2zM574 640h2v1h-2zM841 640h2v1h-2zM845 640h2v1h-2zM851 640h2v1h-2zM894 640h3v1h-3zM911 640h2v1h-2zM960 640h3v1h-3zM987 640h3v1h-3zM1000 640h2v1h-2zM1144 640h2v1h-2zM336 641h3v1h-3zM428 641h2v1h-2zM452 641h2v1h-2zM457 641h2v1h-2zM495 641h2v1h-2zM504 641h5v1h-5zM801 641h2v1h-2zM843 641h2v1h-2zM897 641h2v1h-2zM978 641h2v1h-2zM983 641h4v1h-4zM990 641h3v1h-3zM1002 641h3v1h-3zM1146 641h3v1h-3zM215 642h6v1h-6zM334 642h2v1h-2zM454 642h3v1h-3zM577 642h2v1h-2zM780 642h2v1h-2zM786 642h2v1h-2zM899 642h2v1h-2zM980 642h3v1h-3zM1120 642h2v1h-2zM1248 642h3v1h-3zM212 643h3v1h-3zM328 643h6v1h-6zM384 643h2v1h-2zM442 643h2v1h-2zM463 643h2v1h-2zM528 643h2v1h-2zM547 643h2v1h-2zM556 643h2v1h-2zM579 643h3v1h-3zM654 643h2v1h-2zM782 643h4v1h-4zM971 643h2v1h-2zM994 643h2v1h-2zM1120 643h2v1h-2zM1251 643h2v1h-2zM158 644h2v1h-2zM161 644h2v1h-2zM242 644h2v1h-2zM386 644h4v1h-4zM394 644h2v1h-2zM444 644h2v1h-2zM530 644h3v1h-3zM544 644h3v1h-3zM558 644h4v1h-4zM582 644h3v1h-3zM656 644h5v1h-5zM777 644h2v1h-2zM968 644h3v1h-3zM156 645h2v1h-2zM163 645h2v1h-2zM244 645h2v1h-2zM250 645h2v1h-2zM390 645h4v1h-4zM446 645h3v1h-3zM562 645h3v1h-3zM1008 645h2v1h-2zM230 646h3v1h-3zM246 646h4v1h-4zM432 646h5v1h-5zM565 646h2v1h-2zM1010 646h7v1h-7zM1259 646h2v1h-2zM567 647h2v1h-2zM1017 647h2v1h-2zM1124 647h10v1h-10zM1256 647h3v1h-3zM419 648h6v1h-6zM928 648h2v1h-2zM1019 648h2v1h-2zM1134 648h3v1h-3zM416 649h3v1h-3zM930 649h3v1h-3zM954 649h2v1h-2zM273 650h2v1h-2zM612 650h2v1h-2zM952 650h2v1h-2zM1064 650h2v1h-2zM178 651h2v1h-2zM259 651h6v1h-6zM614 651h3v1h-3zM764 651h2v1h-2zM99 652h2v1h-2zM176 652h2v1h-2zM256 652h3v1h-3zM281 652h2v1h-2zM766 652h3v1h-3zM96 653h3v1h-3zM149 653h2v1h-2zM1068 653h2v1h-2zM770 654h3v1h-3zM1070 654h3v1h-3zM1243 654h2v1h-2zM170 655h2v1h-2zM733 655h2v1h-2zM145 656h2v1h-2zM735 656h2v1h-2zM939 656h2v1h-2zM936 657h3v1h-3zM1056 657h5v1h-5zM124 658h5v1h-5zM738 658h2v1h-2zM942 658h2v1h-2zM105 659h2v1h-2zM122 659h2v1h-2zM129 659h2v1h-2zM135 659h2v1h-2zM202 659h2v1h-2zM638 659h2v1h-2zM720 659h3v1h-3zM727 659h2v1h-2zM944 659h5v1h-5zM107 660h2v1h-2zM120 660h2v1h-2zM131 660h4v1h-4zM200 660h2v1h-2zM636 660h2v1h-2zM723 660h4v1h-4zM755 660h6v1h-6zM1076 660h6v1h-6zM671 661h3v1h-3zM742 661h2v1h-2zM751 661h4v1h-4zM1082 661h3v1h-3zM110 662h2v1h-2zM117 662h2v1h-2zM668 662h3v1h-3zM674 662h4v1h-4zM704 662h5v1h-5zM744 662h7v1h-7zM1085 662h2v1h-2zM112 663h5v1h-5zM189 663h2v1h-2zM624 663h2v1h-2zM678 663h3v1h-3zM1087 663h2v1h-2zM191 664h3v1h-3zM626 664h4v1h-4zM681 664h2v1h-2zM1089 664h2v1h-2zM1094 664h2v1h-2zM1097 664h2v1h-2zM194 665h3v1h-3zM630 665h3v1h-3zM683 665h2v1h-2zM1091 665h3v1h-3zM1099 665h3v1h-3zM712 666h2v1h-2zM1102 666h11v1h-11zM714 667h3v1h-3zM690 668h2v1h-2zM693 668h2v1h-2zM688 669h2v1h-2zM695 669h3v1h-3zM698 670h3v1h-3zM4 641h1v1h-1zM5 639h1v2h-1zM6 637h1v2h-1zM7 635h1v2h-1zM13 634h1v2h-1zM14 636h1v2h-1zM15 638h1v2h-1zM33 636h1v1h-1zM34 634h1v2h-1zM35 633h1v1h-1zM36 632h1v1h-1zM37 633h1v1h-1zM40 635h1v1h-1zM41 634h1v1h-1zM42 632h1v2h-1zM43 631h1v1h-1zM44 630h1v1h-1zM45 629h1v1h-1zM46 628h1v1h-1zM47 627h1v1h-1zM81 623h1v1h-1zM82 624h1v1h-1zM83 625h1v1h-1zM84 626h1v1h-1zM85 627h1v1h-1zM88 629h1v2h-1zM89 631h1v3h-1zM90 634h1v4h-1zM91 638h1v3h-1zM92 641h1v3h-1zM93 644h1v3h-1zM94 647h1v2h-1zM95 649h1v3h-1zM96 652h1v1h-1zM101 653h1v2h-1zM102 655h1v1h-1zM103 656h1v2h-1zM104 658h1v1h-1zM109 661h1v1h-1zM119 661h1v1h-1zM137 657h1v2h-1zM138 655h1v2h-1zM139 653h1v2h-1zM140 652h1v1h-1zM141 653h1v1h-1zM142 654h1v2h-1zM143 656h1v1h-1zM144 657h1v1h-1zM147 655h1v1h-1zM148 654h1v1h-1zM151 652h1v1h-1zM152 651h1v1h-1zM153 649h1v2h-1zM154 648h1v1h-1zM155 646h1v2h-1zM160 643h1v1h-1zM165 646h1v2h-1zM166 648h1v2h-1zM167 650h1v2h-1zM168 652h1v2h-1zM169 654h1v1h-1zM172 656h1v1h-1zM173 655h1v1h-1zM174 654h1v1h-1zM175 653h1v1h-1zM180 650h1v1h-1zM181 651h1v2h-1zM182 653h1v2h-1zM183 655h1v2h-1zM184 657h1v1h-1zM185 658h1v1h-1zM186 659h1v2h-1zM187 661h1v1h-1zM188 662h1v1h-1zM197 664h1v1h-1zM198 662h1v2h-1zM199 661h1v1h-1zM204 658h1v1h-1zM205 656h1v2h-1zM206 655h1v1h-1zM207 653h1v2h-1zM208 651h1v2h-1zM209 649h1v2h-1zM210 647h1v2h-1zM211 645h1v2h-1zM212 644h1v1h-1zM221 641h1v1h-1zM222 640h1v1h-1zM223 639h1v1h-1zM224 638h1v1h-1zM225 639h1v2h-1zM226 641h1v1h-1zM227 642h1v2h-1zM228 644h1v1h-1zM229 645h1v1h-1zM232 647h1v1h-1zM233 644h1v2h-1zM234 642h1v2h-1zM235 640h1v2h-1zM236 638h1v1h-1zM238 640h1v1h-1zM239 641h1v1h-1zM240 642h1v1h-1zM241 643h1v1h-1zM252 644h1v1h-1zM253 645h1v2h-1zM254 647h1v2h-1zM255 649h1v2h-1zM256 651h1v1h-1zM265 652h1v1h-1zM266 653h1v1h-1zM267 654h1v1h-1zM268 655h1v1h-1zM269 654h1v1h-1zM270 653h1v1h-1zM271 652h1v1h-1zM272 651h1v1h-1zM275 649h1v1h-1zM276 648h1v1h-1zM277 649h1v1h-1zM278 650h1v2h-1zM279 652h1v1h-1zM280 653h1v1h-1zM283 651h1v1h-1zM284 650h1v1h-1zM285 648h1v2h-1zM286 646h1v2h-1zM287 644h1v2h-1zM288 642h1v2h-1zM289 641h1v1h-1zM290 639h1v2h-1zM291 638h1v1h-1zM300 633h1v1h-1zM301 632h1v1h-1zM302 630h1v2h-1zM303 629h1v1h-1zM313 628h1v1h-1zM321 631h1v1h-1zM322 632h1v2h-1zM323 634h1v1h-1zM324 635h1v1h-1zM325 636h1v2h-1zM326 638h1v2h-1zM327 640h1v2h-1zM328 642h1v1h-1zM345 641h1v2h-1zM346 643h1v2h-1zM347 645h1v2h-1zM348 647h1v1h-1zM349 646h1v1h-1zM350 644h1v2h-1zM351 643h1v1h-1zM352 642h1v1h-1zM353 641h1v1h-1zM354 639h1v2h-1zM355 638h1v1h-1zM356 637h1v1h-1zM359 635h1v1h-1zM369 634h1v1h-1zM370 635h1v1h-1zM371 636h1v1h-1zM372 637h1v1h-1zM373 636h1v1h-1zM374 635h1v1h-1zM375 634h1v1h-1zM380 635h1v1h-1zM381 636h1v2h-1zM382 638h1v2h-1zM383 640h1v2h-1zM384 642h1v1h-1zM396 643h1v1h-1zM397 644h1v2h-1zM398 646h1v1h-1zM399 647h1v2h-1zM400 649h1v1h-1zM401 647h1v2h-1zM402 646h1v1h-1zM403 644h1v2h-1zM404 643h1v1h-1zM405 642h1v1h-1zM406 641h1v1h-1zM407 640h1v1h-1zM412 640h1v1h-1zM413 641h1v2h-1zM414 643h1v3h-1zM415 646h1v2h-1zM416 648h1v1h-1zM425 646h1v2h-1zM426 644h1v2h-1zM427 642h1v2h-1zM428 640h1v1h-1zM429 642h1v1h-1zM430 643h1v1h-1zM431 644h1v2h-1zM437 645h1v1h-1zM438 643h1v2h-1zM439 642h1v1h-1zM440 641h1v1h-1zM441 642h1v1h-1zM449 644h1v1h-1zM450 643h1v1h-1zM451 642h1v1h-1zM459 640h1v1h-1zM460 639h1v1h-1zM461 640h1v1h-1zM462 641h1v2h-1zM464 644h1v1h-1zM465 641h1v2h-1zM466 639h1v2h-1zM467 637h1v2h-1zM468 635h1v2h-1zM469 634h1v1h-1zM470 633h1v1h-1zM471 632h1v1h-1zM472 631h1v1h-1zM475 629h1v1h-1zM476 628h1v1h-1zM477 629h1v2h-1zM478 631h1v1h-1zM479 632h1v2h-1zM489 637h1v1h-1zM492 639h1v1h-1zM497 639h1v2h-1zM498 637h1v2h-1zM499 635h1v2h-1zM500 634h1v1h-1zM501 635h1v2h-1zM502 637h1v2h-1zM503 639h1v2h-1zM511 639h1v1h-1zM512 638h1v1h-1zM515 636h1v1h-1zM516 635h1v1h-1zM521 636h1v1h-1zM522 635h1v1h-1zM524 633h1v1h-1zM525 635h1v2h-1zM526 637h1v3h-1zM527 640h1v2h-1zM528 642h1v1h-1zM533 642h1v2h-1zM534 641h1v1h-1zM535 639h1v2h-1zM541 639h1v2h-1zM542 641h1v1h-1zM543 642h1v2h-1zM549 641h1v2h-1zM550 640h1v1h-1zM551 638h1v2h-1zM552 637h1v1h-1zM553 638h1v2h-1zM554 640h1v1h-1zM555 641h1v2h-1zM568 646h1v1h-1zM569 644h1v2h-1zM570 642h1v2h-1zM571 640h1v2h-1zM572 638h1v1h-1zM576 641h1v1h-1zM585 642h1v2h-1zM586 641h1v1h-1zM587 639h1v2h-1zM588 638h1v1h-1zM589 636h1v2h-1zM590 634h1v2h-1zM591 632h1v2h-1zM592 631h1v1h-1zM593 632h1v1h-1zM594 633h1v2h-1zM595 635h1v1h-1zM604 635h1v1h-1zM605 636h1v2h-1zM606 638h1v2h-1zM607 640h1v2h-1zM608 642h1v2h-1zM609 644h1v2h-1zM610 646h1v2h-1zM611 648h1v2h-1zM617 652h1v1h-1zM618 653h1v1h-1zM619 654h1v1h-1zM620 655h1v1h-1zM621 656h1v2h-1zM622 658h1v2h-1zM623 660h1v2h-1zM624 662h1v1h-1zM633 664h1v1h-1zM634 662h1v2h-1zM635 661h1v1h-1zM640 658h1v1h-1zM641 657h1v1h-1zM642 655h1v2h-1zM643 654h1v1h-1zM644 653h1v1h-1zM645 651h1v2h-1zM646 649h1v2h-1zM647 647h1v2h-1zM648 645h1v2h-1zM649 644h1v1h-1zM650 643h1v1h-1zM651 642h1v1h-1zM652 641h1v1h-1zM653 642h1v1h-1zM661 645h1v1h-1zM662 646h1v1h-1zM663 647h1v1h-1zM664 648h1v2h-1zM665 650h1v4h-1zM666 654h1v3h-1zM667 657h1v4h-1zM668 661h1v1h-1zM685 666h1v1h-1zM686 667h1v1h-1zM687 668h1v1h-1zM692 667h1v1h-1zM701 668h1v2h-1zM702 666h1v2h-1zM703 664h1v2h-1zM704 663h1v1h-1zM709 663h1v1h-1zM710 664h1v1h-1zM711 665h1v1h-1zM716 666h1v1h-1zM717 664h1v2h-1zM718 662h1v2h-1zM719 660h1v2h-1zM720 658h1v1h-1zM729 658h1v1h-1zM730 656h1v2h-1zM731 655h1v1h-1zM732 654h1v1h-1zM737 657h1v1h-1zM740 659h1v1h-1zM741 660h1v1h-1zM760 659h1v1h-1zM761 657h1v2h-1zM762 655h1v2h-1zM763 653h1v2h-1zM764 652h1v1h-1zM769 653h1v1h-1zM772 655h1v1h-1zM773 652h1v2h-1zM774 649h1v3h-1zM775 647h1v2h-1zM776 645h1v2h-1zM779 643h1v1h-1zM788 641h1v1h-1zM789 639h1v2h-1zM790 638h1v1h-1zM791 636h1v2h-1zM792 635h1v1h-1zM793 636h1v1h-1zM796 638h1v1h-1zM797 639h1v1h-1zM798 640h1v1h-1zM799 641h1v1h-1zM800 642h1v1h-1zM803 640h1v1h-1zM804 639h1v1h-1zM805 640h1v1h-1zM806 641h1v1h-1zM807 642h1v1h-1zM808 643h1v1h-1zM809 641h1v2h-1zM810 639h1v2h-1zM811 637h1v2h-1zM812 636h1v1h-1zM816 633h1v1h-1zM821 636h1v1h-1zM824 638h1v1h-1zM825 636h1v2h-1zM826 634h1v2h-1zM827 632h1v2h-1zM828 630h1v2h-1zM829 628h1v2h-1zM830 626h1v2h-1zM831 625h1v1h-1zM832 623h1v1h-1zM833 625h1v4h-1zM834 629h1v3h-1zM835 632h1v4h-1zM836 636h1v2h-1zM847 639h1v1h-1zM848 638h1v1h-1zM852 639h1v1h-1zM853 637h1v2h-1zM854 634h1v3h-1zM855 632h1v2h-1zM856 631h1v1h-1zM861 631h1v2h-1zM862 633h1v1h-1zM863 634h1v2h-1zM864 636h1v1h-1zM869 637h1v1h-1zM870 636h1v1h-1zM871 635h1v1h-1zM876 632h1v1h-1zM877 633h1v2h-1zM878 635h1v2h-1zM879 637h1v2h-1zM888 635h1v1h-1zM889 636h1v1h-1zM890 637h1v1h-1zM891 638h1v1h-1zM901 641h1v1h-1zM902 640h1v1h-1zM903 639h1v1h-1zM913 639h1v1h-1zM914 638h1v1h-1zM915 637h1v1h-1zM924 634h1v1h-1zM925 636h1v4h-1zM926 640h1v3h-1zM927 643h1v4h-1zM928 647h1v1h-1zM933 650h1v2h-1zM934 652h1v2h-1zM935 654h1v2h-1zM936 656h1v1h-1zM941 657h1v1h-1zM948 658h1v1h-1zM949 656h1v2h-1zM950 654h1v2h-1zM951 652h1v2h-1zM952 651h1v1h-1zM956 648h1v1h-1zM957 646h1v2h-1zM958 644h1v2h-1zM959 642h1v2h-1zM960 641h1v1h-1zM965 640h1v1h-1zM966 641h1v2h-1zM967 643h1v1h-1zM973 642h1v1h-1zM974 641h1v1h-1zM975 640h1v1h-1zM976 639h1v1h-1zM977 640h1v1h-1zM993 642h1v1h-1zM996 644h1v1h-1zM997 643h1v1h-1zM998 642h1v1h-1zM999 641h1v1h-1zM1005 642h1v1h-1zM1006 643h1v1h-1zM1007 644h1v1h-1zM1020 647h1v1h-1zM1021 644h1v3h-1zM1022 640h1v4h-1zM1023 637h1v3h-1zM1024 636h1v1h-1zM1037 635h1v1h-1zM1038 636h1v1h-1zM1039 637h1v1h-1zM1040 638h1v1h-1zM1041 637h1v1h-1zM1042 636h1v1h-1zM1043 635h1v1h-1zM1048 636h1v1h-1zM1049 637h1v2h-1zM1050 639h1v3h-1zM1051 642h1v2h-1zM1052 644h1v3h-1zM1053 647h1v3h-1zM1054 650h1v3h-1zM1055 653h1v3h-1zM1056 656h1v1h-1zM1061 655h1v2h-1zM1062 653h1v2h-1zM1063 651h1v2h-1zM1064 649h1v1h-1zM1066 651h1v1h-1zM1067 652h1v1h-1zM1073 655h1v2h-1zM1074 657h1v1h-1zM1075 658h1v2h-1zM1096 663h1v1h-1zM1113 665h1v1h-1zM1114 663h1v2h-1zM1115 662h1v1h-1zM1116 659h1v3h-1zM1117 654h1v5h-1zM1118 649h1v5h-1zM1119 644h1v5h-1zM1120 641h1v1h-1zM1122 644h1v1h-1zM1123 645h1v2h-1zM1137 647h1v1h-1zM1138 646h1v1h-1zM1139 645h1v1h-1zM1140 644h1v1h-1zM1141 643h1v1h-1zM1142 642h1v1h-1zM1143 641h1v1h-1zM1149 639h1v2h-1zM1150 638h1v1h-1zM1151 636h1v2h-1zM1156 633h1v1h-1zM1157 634h1v1h-1zM1160 636h1v1h-1zM1163 634h1v1h-1zM1173 631h1v2h-1zM1174 633h1v2h-1zM1175 635h1v2h-1zM1176 637h1v1h-1zM1180 636h1v1h-1zM1181 637h1v1h-1zM1182 638h1v1h-1zM1183 639h1v1h-1zM1184 640h1v1h-1zM1187 638h1v1h-1zM1188 636h1v2h-1zM1189 634h1v2h-1zM1190 632h1v2h-1zM1191 630h1v2h-1zM1192 628h1v1h-1zM1194 630h1v1h-1zM1195 631h1v1h-1zM1208 628h1v1h-1zM1209 629h1v1h-1zM1210 630h1v2h-1zM1211 632h1v1h-1zM1229 635h1v1h-1zM1230 633h1v2h-1zM1231 632h1v1h-1zM1232 631h1v1h-1zM1233 632h1v1h-1zM1236 634h1v2h-1zM1237 636h1v4h-1zM1238 640h1v3h-1zM1239 643h1v4h-1zM1240 647h1v2h-1zM1241 649h1v2h-1zM1242 651h1v2h-1zM1243 653h1v1h-1zM1244 655h1v1h-1zM1245 650h1v4h-1zM1246 647h1v3h-1zM1247 643h1v4h-1zM1248 641h1v1h-1zM1253 644h1v1h-1zM1254 645h1v1h-1zM1255 646h1v1h-1z"/>
<path fill="#c0c0c0" d="M4 732h1v23h-1zM8 730h1v25h-1zM12 727h1v28h-1zM16 729h1v26h-1zM20 730h1v25h-1zM24 730h1v25h-1zM28 730h1v25h-1zM32 730h1v25h-1zM36 728h1v27h-1zM40 728h1v27h-1zM44 725h1v30h-1zM48 720h1v35h-1zM52 716h1v39h-1zM56 713h1v42h-1zM60 711h1v44h-1zM64 709h1v46h-1zM68 707h1v48h-1zM72 706h1v49h-1zM76 706h1v49h-1zM80 705h1v50h-1zM84 707h1v48h-1zM88 709h1v46h-1zM92 716h1v39h-1zM96 726h1v29h-1zM100 734h1v21h-1zM104 743h1v12h-1zM108 752h1v3h-1zM112 754h1v7h-1zM116 754h1v14h-1zM120 754h1v19h-1zM124 754h1v22h-1zM128 754h1v24h-1zM132 754h1v26h-1zM136 754h1v27h-1zM140 754h1v26h-1zM144 754h1v26h-1zM148 754h1v26h-1zM152 754h1v24h-1zM156 754h1v21h-1zM160 754h1v17h-1zM164 754h1v15h-1zM168 754h1v16h-1zM172 754h1v18h-1zM176 754h1v18h-1zM180 754h1v17h-1zM184 754h1v19h-1zM188 754h1v23h-1zM192 754h1v28h-1zM196 754h1v31h-1zM200 754h1v32h-1zM204 754h1v32h-1zM208 754h1v30h-1zM212 754h1v25h-1zM216 754h1v20h-1zM220 754h1v16h-1zM224 754h1v11h-1zM228 754h1v9h-1zM232 754h1v9h-1zM236 754h1v5h-1zM240 754h1v3h-1zM244 754h1v3h-1zM248 754h1v3h-1zM252 754h1v3h-1zM256 754h1v6h-1zM260 754h1v8h-1zM264 754h1v9h-1zM268 754h1v12h-1zM272 754h1v12h-1zM276 754h1v12h-1zM280 754h1v13h-1zM284 754h1v13h-1zM288 754h1v10h-1zM292 754h1v5h-1zM296 754h1v1h-1zM300 750h1v5h-1zM304 743h1v12h-1zM308 738h1v17h-1zM312 733h1v22h-1zM316 731h1v24h-1zM320 730h1v25h-1zM324 730h1v25h-1zM328 733h1v22h-1zM332 736h1v19h-1zM336 738h1v17h-1zM340 739h1v16h-1zM344 740h1v15h-1zM348 743h1v12h-1zM352 744h1v11h-1zM356 743h1v12h-1zM360 741h1v14h-1zM364 740h1v15h-1zM368 738h1v17h-1zM372 739h1v16h-1zM376 737h1v18h-1zM380 737h1v18h-1zM384 739h1v16h-1zM388 742h1v13h-1zM392 744h1v11h-1zM396 745h1v10h-1zM400 748h1v7h-1zM404 749h1v6h-1zM408 748h1v7h-1zM412 748h1v7h-1zM416 750h1v5h-1zM420 752h1v3h-1zM424 754h1v1h-1zM428 752h1v3h-1zM432 753h1v2h-1zM436 754h1v1h-1zM440 753h1v2h-1zM444 753h1v2h-1zM448 753h1v2h-1zM452 753h1v2h-1zM456 752h1v3h-1zM460 751h1v4h-1zM464 752h1v3h-1zM468 749h1v6h-1zM472 746h1v9h-1zM476 742h1v13h-1zM480 741h1v14h-1zM484 740h1v15h-1zM488 739h1v16h-1zM492 740h1v15h-1zM496 742h1v13h-1zM500 741h1v14h-1zM504 742h1v13h-1zM508 743h1v12h-1zM512 743h1v12h-1zM516 742h1v13h-1zM520 742h1v13h-1zM524 741h1v14h-1zM528 743h1v12h-1zM532 745h1v10h-1zM536 744h1v11h-1zM540 744h1v11h-1zM544 746h1v9h-1zM548 747h1v8h-1zM552 746h1v9h-1zM556 747h1v8h-1zM560 748h1v7h-1zM564 749h1v6h-1zM568 751h1v4h-1zM572 750h1v5h-1zM576 749h1v6h-1zM580 750h1v5h-1zM584 751h1v4h-1zM588 750h1v5h-1zM592 746h1v9h-1zM596 745h1v10h-1zM600 744h1v11h-1zM604 743h1v12h-1zM608 744h1v11h-1zM612 747h1v8h-1zM616 750h1v5h-1zM620 754h1v1h-1zM624 754h1v7h-1zM628 754h1v12h-1zM632 754h1v17h-1zM636 754h1v19h-1zM640 754h1v20h-1zM644 754h1v20h-1zM648 754h1v17h-1zM652 754h1v13h-1zM656 754h1v11h-1zM660 754h1v9h-1zM664 754h1v9h-1zM668 754h1v15h-1zM672 754h1v19h-1zM676 754h1v22h-1zM680 754h1v25h-1zM684 754h1v28h-1zM688 754h1v33h-1zM692 754h1v36h-1zM696 754h1v39h-1zM700 754h1v41h-1zM704 754h1v40h-1zM708 754h1v40h-1zM712 754h1v41h-1zM716 754h1v42h-1zM720 754h1v40h-1zM724 754h1v39h-1zM728 754h1v37h-1zM732 754h1v34h-1zM736 754h1v32h-1zM740 754h1v32h-1zM744 754h1v32h-1zM748 754h1v33h-1zM752 754h1v32h-1zM756 754h1v31h-1zM760 754h1v31h-1zM764 754h1v27h-1zM768 754h1v25h-1zM772 754h1v24h-1zM776 754h1v20h-1zM780 754h1v16h-1zM784 754h1v13h-1zM788 754h1v10h-1zM792 754h1v6h-1zM796 754h1v3h-1zM800 754h1v2h-1zM804 754h1v1h-1zM808 754h1v1h-1zM812 751h1v4h-1zM816 749h1v6h-1zM820 747h1v8h-1zM824 746h1v9h-1zM828 744h1v11h-1zM832 738h1v17h-1zM836 738h1v17h-1zM840 739h1v16h-1zM844 740h1v15h-1zM848 740h1v15h-1zM852 741h1v14h-1zM856 738h1v17h-1zM860 736h1v19h-1zM864 736h1v19h-1zM868 736h1v19h-1zM872 736h1v19h-1zM876 734h1v21h-1zM880 735h1v20h-1zM884 736h1v19h-1zM888 736h1v19h-1zM892 737h1v18h-1zM896 738h1v17h-1zM900 740h1v15h-1zM904 740h1v15h-1zM908 741h1v14h-1zM912 742h1v13h-1zM916 741h1v14h-1zM920 741h1v14h-1zM924 740h1v15h-1zM928 744h1v11h-1zM932 747h1v8h-1zM936 752h1v3h-1zM940 754h1v2h-1zM944 754h1v6h-1zM948 754h1v9h-1zM952 754h1v10h-1zM956 754h1v9h-1zM960 754h1v7h-1zM964 754h1v4h-1zM968 754h1v3h-1zM972 754h1v2h-1zM976 754h1v1h-1zM980 754h1v1h-1zM984 753h1v2h-1zM988 752h1v3h-1zM992 751h1v4h-1zM996 752h1v3h-1zM1000 751h1v4h-1zM1004 751h1v4h-1zM1008 751h1v4h-1zM1012 752h1v3h-1zM1016 753h1v2h-1zM1020 754h1v1h-1zM1024 751h1v4h-1zM1028 749h1v6h-1zM1032 747h1v8h-1zM1036 746h1v9h-1zM1040 746h1v9h-1zM1044 745h1v10h-1zM1048 744h1v11h-1zM1052 746h1v9h-1zM1056 751h1v4h-1zM1064 754h1v3h-1zM1068 754h1v5h-1zM1072 754h1v7h-1zM1076 754h1v10h-1zM1080 754h1v13h-1zM1084 754h1v16h-1zM1088 754h1v19h-1zM1092 754h1v21h-1zM1096 754h1v23h-1zM1100 754h1v24h-1zM1104 754h1v25h-1zM1108 754h1v26h-1zM1112 754h1v27h-1zM1116 754h1v26h-1zM1120 754h1v21h-1zM1124 754h1v18h-1zM1128 754h1v16h-1zM1132 754h1v14h-1zM1136 754h1v13h-1zM1140 754h1v11h-1zM1144 754h1v8h-1zM1148 754h1v6h-1zM1152 754h1v3h-1zM1156 754h1v1h-1zM1160 752h1v3h-1zM1164 750h1v5h-1zM1168 748h1v7h-1zM1172 746h1v9h-1zM1176 746h1v9h-1zM1180 745h1v10h-1zM1184 746h1v9h-1zM1188 746h1v9h-1zM1192 743h1v12h-1zM1196 742h1v13h-1zM1200 740h1v15h-1zM1204 739h1v16h-1zM1208 738h1v17h-1zM1212 738h1v17h-1zM1216 738h1v17h-1zM1220 739h1v16h-1zM1224 739h1v16h-1zM1228 740h1v15h-1zM1232 740h1v15h-1zM1236 740h1v15h-1zM1240 743h1v12h-1zM1244 748h1v7h-1zM1248 748h1v7h-1zM1252 748h1v7h-1zM1256 750h1v5h-1zM1260 751h1v4h-1z"/>
<path fill="#ff0000" d="M87 708h3v1h-3zM82 709h2v1h-2zM93 709h2v1h-2zM76 712h2v1h-2zM99 712h2v1h-2zM70 716h2v1h-2zM58 723h2v1h-2zM51 726h3v1h-3zM45 728h2v1h-2zM21 729h3v1h-3zM27 729h3v1h-3zM33 729h3v1h-3zM39 729h3v1h-3zM15 730h3v1h-3zM4 731h2v1h-2zM9 731h3v1h-3zM337 734h3v1h-3zM343 734h3v1h-3zM889 735h3v1h-3zM895 735h3v1h-3zM332 736h2v1h-2zM350 736h2v1h-2zM883 736h3v1h-3zM901 736h3v1h-3zM871 737h3v1h-3zM877 737h2v1h-2zM907 737h3v1h-3zM355 738h3v1h-3zM865 738h3v1h-3zM913 738h3v1h-3zM326 739h2v1h-2zM385 739h3v1h-3zM391 739h3v1h-3zM859 739h3v1h-3zM919 739h3v1h-3zM1225 739h3v1h-3zM1231 739h3v1h-3zM1237 739h3v1h-3zM362 740h2v1h-2zM367 740h3v1h-3zM373 740h3v1h-3zM379 740h3v1h-3zM926 740h2v1h-2zM1219 740h3v1h-3zM1243 740h3v1h-3zM398 741h2v1h-2zM505 741h3v1h-3zM511 741h3v1h-3zM517 741h3v1h-3zM523 741h3v1h-3zM853 741h2v1h-2zM931 741h3v1h-3zM1213 741h3v1h-3zM403 742h3v1h-3zM499 742h3v1h-3zM529 742h3v1h-3zM535 742h3v1h-3zM847 742h3v1h-3zM1207 742h3v1h-3zM1250 742h2v1h-2zM542 743h2v1h-2zM547 743h3v1h-3zM937 743h2v1h-2zM410 744h2v1h-2zM493 744h2v1h-2zM553 744h3v1h-3zM842 744h2v1h-2zM1201 744h2v1h-2zM1255 744h3v1h-3zM415 745h2v1h-2zM488 745h2v1h-2zM559 745h3v1h-3zM1195 745h3v1h-3zM565 746h3v1h-3zM607 746h3v1h-3zM613 746h3v1h-3zM836 746h2v1h-2zM943 746h2v1h-2zM571 747h3v1h-3zM619 747h3v1h-3zM1051 747h3v1h-3zM1057 747h3v1h-3zM1189 747h2v1h-2zM422 748h2v1h-2zM481 748h2v1h-2zM578 748h2v1h-2zM583 748h3v1h-3zM595 748h3v1h-3zM601 748h2v1h-2zM1063 748h3v1h-3zM427 749h3v1h-3zM589 749h3v1h-3zM625 749h2v1h-2zM830 749h2v1h-2zM1039 749h3v1h-3zM1045 749h2v1h-2zM1183 749h3v1h-3zM475 750h3v1h-3zM949 750h2v1h-2zM1033 750h3v1h-3zM1069 750h2v1h-2zM434 751h2v1h-2zM439 751h3v1h-3zM1009 751h3v1h-3zM1015 751h3v1h-3zM1021 751h3v1h-3zM1027 751h3v1h-3zM1178 751h2v1h-2zM445 752h3v1h-3zM463 752h3v1h-3zM469 752h2v1h-2zM824 752h2v1h-2zM1003 752h3v1h-3zM451 753h3v1h-3zM457 753h2v1h-2zM1075 753h2v1h-2zM992 754h2v1h-2zM997 754h2v1h-2zM1172 754h2v1h-2zM817 756h2v1h-2zM961 757h2v1h-2zM985 757h2v1h-2zM1082 757h2v1h-2zM979 758h3v1h-3zM1166 758h2v1h-2zM259 759h3v1h-3zM265 759h3v1h-3zM812 759h2v1h-2zM967 759h3v1h-3zM973 759h3v1h-3zM253 760h2v1h-2zM271 760h3v1h-3zM301 761h2v1h-2zM1160 761h2v1h-2zM248 762h2v1h-2zM278 762h2v1h-2zM283 763h3v1h-3zM295 763h3v1h-3zM806 763h2v1h-2zM289 764h3v1h-3zM1093 765h2v1h-2zM1153 765h2v1h-2zM241 767h2v1h-2zM650 767h2v1h-2zM667 768h3v1h-3zM1148 768h2v1h-2zM655 769h3v1h-3zM661 769h3v1h-3zM674 769h2v1h-2zM679 769h3v1h-3zM187 772h3v1h-3zM686 772h2v1h-2zM793 772h2v1h-2zM1105 772h2v1h-2zM1142 772h2v1h-2zM181 773h2v1h-2zM175 774h3v1h-3zM194 774h2v1h-2zM1135 774h3v1h-3zM169 775h2v1h-2zM691 775h2v1h-2zM1111 775h3v1h-3zM145 776h2v1h-2zM199 776h2v1h-2zM229 776h2v1h-2zM1129 776h2v1h-2zM163 777h3v1h-3zM1118 777h2v1h-2zM1123 777h3v1h-3zM151 778h3v1h-3zM157 778h3v1h-3zM206 779h2v1h-2zM223 779h3v1h-3zM782 779h2v1h-2zM211 780h3v1h-3zM217 780h3v1h-3zM698 781h2v1h-2zM775 782h3v1h-3zM769 784h2v1h-2zM763 785h3v1h-3zM757 787h2v1h-2zM709 788h2v1h-2zM751 788h3v1h-3zM745 790h2v1h-2zM715 791h3v1h-3zM739 791h3v1h-3zM722 793h2v1h-2zM727 793h3v1h-3zM733 793h2v1h-2zM47 727h1v1h-1zM57 724h1v1h-1zM63 721h1v1h-1zM64 720h1v1h-1zM65 719h1v1h-1zM69 717h1v1h-1zM75 713h1v1h-1zM81 710h1v1h-1zM95 710h1v1h-1zM101 713h1v1h-1zM105 717h1v1h-1zM106 718h1v2h-1zM109 723h1v1h-1zM110 724h1v2h-1zM113 729h1v2h-1zM114 731h1v1h-1zM116 735h1v1h-1zM117 736h1v2h-1zM119 741h1v1h-1zM120 742h1v1h-1zM121 743h1v1h-1zM123 747h1v2h-1zM124 749h1v1h-1zM126 753h1v1h-1zM127 754h1v2h-1zM130 759h1v1h-1zM131 760h1v2h-1zM134 765h1v1h-1zM135 766h1v1h-1zM136 767h1v1h-1zM139 771h1v1h-1zM140 772h1v1h-1zM141 773h1v1h-1zM147 777h1v1h-1zM171 774h1v1h-1zM183 772h1v1h-1zM193 773h1v1h-1zM201 777h1v1h-1zM205 778h1v1h-1zM231 775h1v1h-1zM235 772h1v1h-1zM236 771h1v1h-1zM237 770h1v1h-1zM243 766h1v1h-1zM247 763h1v1h-1zM255 759h1v1h-1zM277 761h1v1h-1zM303 760h1v1h-1zM307 757h1v1h-1zM308 756h1v1h-1zM309 755h1v1h-1zM313 751h1v1h-1zM314 750h1v1h-1zM315 749h1v1h-1zM319 745h1v1h-1zM320 744h1v1h-1zM321 743h1v1h-1zM325 740h1v1h-1zM331 737h1v1h-1zM349 735h1v1h-1zM361 739h1v1h-1zM397 740h1v1h-1zM409 743h1v1h-1zM417 746h1v1h-1zM421 747h1v1h-1zM433 750h1v1h-1zM459 752h1v1h-1zM471 751h1v1h-1zM483 747h1v1h-1zM487 746h1v1h-1zM495 743h1v1h-1zM541 742h1v1h-1zM577 747h1v1h-1zM603 747h1v1h-1zM627 750h1v1h-1zM631 752h1v1h-1zM632 753h1v1h-1zM633 754h1v1h-1zM637 757h1v1h-1zM638 758h1v1h-1zM639 759h1v1h-1zM643 762h1v1h-1zM644 763h1v1h-1zM645 764h1v1h-1zM649 766h1v1h-1zM673 768h1v1h-1zM685 771h1v1h-1zM693 776h1v1h-1zM697 780h1v1h-1zM703 784h1v1h-1zM704 785h1v1h-1zM705 786h1v1h-1zM711 789h1v1h-1zM721 792h1v1h-1zM735 792h1v1h-1zM747 789h1v1h-1zM759 786h1v1h-1zM771 783h1v1h-1zM781 780h1v1h-1zM787 777h1v1h-1zM788 776h1v1h-1zM789 775h1v1h-1zM795 771h1v1h-1zM799 768h1v1h-1zM800 767h1v1h-1zM801 766h1v1h-1zM805 764h1v1h-1zM811 760h1v1h-1zM819 755h1v1h-1zM823 753h1v1h-1zM829 750h1v1h-1zM835 747h1v1h-1zM841 745h1v1h-1zM855 740h1v1h-1zM879 736h1v1h-1zM925 739h1v1h-1zM939 744h1v1h-1zM945 747h1v1h-1zM951 751h1v1h-1zM955 753h1v1h-1zM956 754h1v1h-1zM957 755h1v1h-1zM963 758h1v1h-1zM987 756h1v1h-1zM991 755h1v1h-1zM999 753h1v1h-1zM1047 748h1v1h-1zM1071 751h1v1h-1zM1077 754h1v1h-1zM1081 756h1v1h-1zM1087 760h1v1h-1zM1088 761h1v1h-1zM1089 762h1v1h-1zM1095 766h1v1h-1zM1099 768h1v1h-1zM1100 769h1v1h-1zM1101 770h1v1h-1zM1107 773h1v1h-1zM1117 776h1v1h-1zM1131 775h1v1h-1zM1141 773h1v1h-1zM1147 769h1v1h-1zM1155 764h1v1h-1zM1159 762h1v1h-1zM1165 759h1v1h-1zM1171 755h1v1h-1zM1177 752h1v1h-1zM1191 746h1v1h-1zM1203 743h1v1h-1zM1249 741h1v1h-1z"/>
</g>
<g font-family="Liberation Sans, sans-serif">
<rect x="1582" y="26" width="2" height="1" fill="#000"/>
<text x="1587.11" y="30" font-size="10.2" fill="#000" textLength="33.05" lengthAdjust="spacingAndGlyphs" stroke="#000" stroke-width="0.25">1.36950</text>
<rect x="1582" y="59" width="2" height="1" fill="#000"/>
<text x="1587.11" y="63" font-size="10.2" fill="#000" textLength="33.05" lengthAdjust="spacingAndGlyphs" stroke="#000" stroke-width="0.25">1.36540</text>
<rect x="1582" y="92" width="2" height="1" fill="#000"/>
<text x="1587.11" y="96" font-size="10.2" fill="#000" textLength="33.05" lengthAdjust="spacingAndGlyphs" stroke="#000" stroke-width="0.25">1.36130</text>
<rect x="1582" y="125" width="2" height="1" fill="#000"/>
<text x="1587.11" y="129" font-size="10.2" fill="#000" textLength="33.05" lengthAdjust="spacingAndGlyphs" stroke="#000" stroke-width="0.25">1.35730</text>
<rect x="1582" y="158" width="2" height="1" fill="#000"/>
<text x="1587.11" y="162" font-size="10.2" fill="#000" textLength="33.05" lengthAdjust="spacingAndGlyphs" stroke="#000" stroke-width="0.25">1.35320</text>
<rect x="1582" y="191" width="2" height="1" fill="#000"/>
<text x="1587.11" y="195" font-size="10.2" fill="#000" textLength="33.05" lengthAdjust="spacingAndGlyphs" stroke="#000" stroke-width="0.25">1.34910</text>
<rect x="1582" y="224" width="2" height="1" fill="#000"/>
<text x="1587.11" y="228" font-size="10.2" fill="#000" textLength="33.05" lengthAdjust="spacingAndGlyphs" stroke="#000" stroke-width="0.25">1.34500</text>
<rect x="1582" y="257" width="2" height="1" fill="#000"/>
<text x="1587.11" y="261" font-size="10.2" fill="#000" textLength="33.05" lengthAdjust="spacingAndGlyphs" stroke="#000" stroke-width="0.25">1.34090</text>
<rect x="1582" y="290" width="2" height="1" fill="#000"/>
<text x="1587.11" y="294" font-size="10.2" fill="#000" textLength="33.05" lengthAdjust="spacingAndGlyphs" stroke="#000" stroke-width="0.25">1.33680</text>
<rect x="1582" y="323" width="2" height="1" fill="#000"/>
<text x="1587.11" y="327" font-size="10.2" fill="#000" textLength="33.05" lengthAdjust="spacingAndGlyphs" stroke="#000" stroke-width="0.25">1.33280</text>
<rect x="1582" y="356" width="2" height="1" fill="#000"/>
<text x="1587.11" y="360" font-size="10.2" fill="#000" textLength="33.05" lengthAdjust="spacingAndGlyphs" stroke="#000" stroke-width="0.25">1.32870</text>
<rect x="1582" y="389" width="2" height="1" fill="#000"/>
<text x="1587.11" y="393" font-size="10.2" fill="#000" textLength="33.05" lengthAdjust="spacingAndGlyphs" stroke="#000" stroke-width="0.25">1.32460</text>
<rect x="1582" y="422" width="2" height="1" fill="#000"/>
<text x="1587.11" y="426" font-size="10.2" fill="#000" textLength="33.05" lengthAdjust="spacingAndGlyphs" stroke="#000" stroke-width="0.25">1.32050</text>
<rect x="1582" y="455" width="2" height="1" fill="#000"/>
<text x="1587.11" y="459" font-size="10.2" fill="#000" textLength="33.05" lengthAdjust="spacingAndGlyphs" stroke="#000" stroke-width="0.25">1.31640</text>
<rect x="1582" y="488" width="2" height="1" fill="#000"/>
<text x="1587.11" y="492" font-size="10.2" fill="#000" textLength="33.05" lengthAdjust="spacingAndGlyphs" stroke="#000" stroke-width="0.25">1.31230</text>
<rect x="1582" y="521" width="2" height="1" fill="#000"/>
<text x="1587.11" y="525" font-size="10.2" fill="#000" textLength="33.05" lengthAdjust="spacingAndGlyphs" stroke="#000" stroke-width="0.25">1.30830</text>
<rect x="1582" y="554" width="2" height="1" fill="#000"/>
<text x="1587.11" y="558" font-size="10.2" fill="#000" textLength="33.05" lengthAdjust="spacingAndGlyphs" stroke="#000" stroke-width="0.25">1.30420</text>
<rect x="1582" y="587" width="2" height="1" fill="#000"/>
<text x="1587.11" y="591" font-size="10.2" fill="#000" textLength="33.05" lengthAdjust="spacingAndGlyphs" stroke="#000" stroke-width="0.25">1.30010</text>
<rect x="1583" y="129" width="41" height="11" fill="#ff0000"/>
<text x="1587.21" y="138" font-size="10.2" fill="#fff" textLength="33.1" lengthAdjust="spacingAndGlyphs" stroke="#fff" stroke-width="0.25">1.35606</text>
<rect x="1583" y="242" width="41" height="11" fill="#ff0000"/>
<text x="1587.21" y="251" font-size="10.2" fill="#fff" textLength="33.1" lengthAdjust="spacingAndGlyphs" stroke="#fff" stroke-width="0.25">1.34206</text>
<rect x="1583" y="364" width="41" height="11" fill="#00ff00"/>
<text x="1587.21" y="373" font-size="10.2" fill="#fff" textLength="33.05" lengthAdjust="spacingAndGlyphs" stroke="#fff" stroke-width="0.25">1.32700</text>
<rect x="1583" y="395" width="41" height="11" fill="#000000"/>
<text x="1587.21" y="404" font-size="10.2" fill="#fff" textLength="33.14" lengthAdjust="spacingAndGlyphs" stroke="#fff" stroke-width="0.25">1.32322</text>
<rect x="1583" y="468" width="41" height="11" fill="#0000ff"/>
<text x="1587.21" y="477" font-size="10.2" fill="#fff" textLength="33.05" lengthAdjust="spacingAndGlyphs" stroke="#fff" stroke-width="0.25">1.31405</text>
<rect x="1583" y="570" width="41" height="11" fill="#0000ff"/>
<text x="1587.21" y="579" font-size="10.2" fill="#fff" textLength="33.1" lengthAdjust="spacingAndGlyphs" stroke="#fff" stroke-width="0.25">1.30153</text>
<rect x="1582" y="594" width="1" height="1" fill="#000"/>
<rect x="1582" y="695" width="1" height="1" fill="#000"/>
<rect x="1582" y="700" width="1" height="1" fill="#000"/>
<rect x="1582" y="800" width="1" height="1" fill="#000"/>
<text x="1584.91" y="603" font-size="10.2" fill="#000" textLength="15.29" lengthAdjust="spacingAndGlyphs" stroke="#000" stroke-width="0.25">100</text>
<text x="1583.92" y="628" font-size="10.2" fill="#000" textLength="10.58" lengthAdjust="spacingAndGlyphs" stroke="#000" stroke-width="0.25">70</text>
<text x="1583.72" y="669" font-size="10.2" fill="#000" textLength="10.48" lengthAdjust="spacingAndGlyphs" stroke="#000" stroke-width="0.25">30</text>
<text x="1584.8" y="693" font-size="10.2" fill="#000" textLength="5.62" lengthAdjust="spacingAndGlyphs" stroke="#000" stroke-width="0.25">0</text>
<text x="1584.83" y="709" font-size="10.2" fill="#000" textLength="38.55" lengthAdjust="spacingAndGlyphs" stroke="#000" stroke-width="0.25">0.010615</text>
<rect x="1582" y="754" width="1" height="1" fill="#000"/>
<text x="1584.82" y="758" font-size="10.2" fill="#000" textLength="18.37" lengthAdjust="spacingAndGlyphs" stroke="#000" stroke-width="0.25">0.00</text>
<text x="1583.96" y="798" font-size="10.2" fill="#000" textLength="44.12" lengthAdjust="spacingAndGlyphs" stroke="#000" stroke-width="0.25">-0.009181</text>
</g>
<g font-family="Liberation Sans, sans-serif">
<path d="M7 30H14L10.5 34Z" fill="#000"/>
<text x="18.56" y="35" font-size="10.2" fill="#000" textLength="66.27" lengthAdjust="spacingAndGlyphs" stroke="#000" stroke-width="0.25">USDCAD,Daily</text>
<text x="90.82" y="35" font-size="10.2" fill="#000" textLength="32.95" lengthAdjust="spacingAndGlyphs" stroke="#000" stroke-width="0.25">1.32268</text>
<text x="126.82" y="35" font-size="10.2" fill="#000" textLength="32.95" lengthAdjust="spacingAndGlyphs" stroke="#000" stroke-width="0.25">1.32435</text>
<text x="162.81" y="35" font-size="10.2" fill="#000" textLength="33.04" lengthAdjust="spacingAndGlyphs" stroke="#000" stroke-width="0.25">1.32221</text>
<text x="198.81" y="35" font-size="10.2" fill="#000" textLength="33.04" lengthAdjust="spacingAndGlyphs" stroke="#000" stroke-width="0.25">1.32322</text>
<text x="7.75" y="605" font-size="10.2" fill="#000" textLength="68.5" lengthAdjust="spacingAndGlyphs" stroke="#000" stroke-width="0.25">RSI(14) 47.9636</text>
<text x="8.04" y="711" font-size="10.2" fill="#000" textLength="65.95" lengthAdjust="spacingAndGlyphs" stroke="#000" stroke-width="0.25">MACD(12,26,9)</text>
<text x="77.14" y="711" font-size="10.2" fill="#000" textLength="37.11" lengthAdjust="spacingAndGlyphs" stroke="#000" stroke-width="0.25">0.000541</text>
<text x="118.04" y="711" font-size="10.2" fill="#000" textLength="37.47" lengthAdjust="spacingAndGlyphs" stroke="#000" stroke-width="0.25">0.001719</text>
</g>
<g font-family="Liberation Sans, sans-serif">
<rect x="4" y="802" width="1" height="3" fill="#000"/>
<text x="3.19" y="814" font-size="10.2" fill="#000" textLength="46.57" lengthAdjust="spacingAndGlyphs" stroke="#000" stroke-width="0.25">8 Dec 2018</text>
<rect x="68" y="802" width="1" height="3" fill="#000"/>
<text x="67.14" y="814" font-size="10.2" fill="#000" textLength="52.04" lengthAdjust="spacingAndGlyphs" stroke="#000" stroke-width="0.25">27 Dec 2018</text>
<rect x="132" y="802" width="1" height="3" fill="#000"/>
<text x="131.52" y="814" font-size="10.2" fill="#000" textLength="49.68" lengthAdjust="spacingAndGlyphs" stroke="#000" stroke-width="0.25">15 Jan 2019</text>
<rect x="196" y="802" width="1" height="3" fill="#000"/>
<text x="195.13" y="814" font-size="10.2" fill="#000" textLength="47.08" lengthAdjust="spacingAndGlyphs" stroke="#000" stroke-width="0.25">2 Feb 2019</text>
<rect x="260" y="802" width="1" height="3" fill="#000"/>
<text x="259.14" y="814" font-size="10.2" fill="#000" textLength="51.68" lengthAdjust="spacingAndGlyphs" stroke="#000" stroke-width="0.25">21 Feb 2019</text>
<rect x="324" y="802" width="1" height="3" fill="#000"/>
<text x="323.52" y="814" font-size="10.2" fill="#000" textLength="51.09" lengthAdjust="spacingAndGlyphs" stroke="#000" stroke-width="0.25">12 Mar 2019</text>
<rect x="388" y="802" width="1" height="3" fill="#000"/>
<text x="387.23" y="814" font-size="10.2" fill="#000" textLength="52.09" lengthAdjust="spacingAndGlyphs" stroke="#000" stroke-width="0.25">30 Mar 2019</text>
<rect x="452" y="802" width="1" height="3" fill="#000"/>
<text x="451.6" y="814" font-size="10.2" fill="#000" textLength="50.31" lengthAdjust="spacingAndGlyphs" stroke="#000" stroke-width="0.25">18 Apr 2019</text>
<rect x="516" y="802" width="1" height="3" fill="#000"/>
<text x="515.22" y="814" font-size="10.2" fill="#000" textLength="50.12" lengthAdjust="spacingAndGlyphs" stroke="#000" stroke-width="0.25">7 May 2019</text>
<rect x="580" y="802" width="1" height="3" fill="#000"/>
<text x="579.33" y="814" font-size="10.2" fill="#000" textLength="54.51" lengthAdjust="spacingAndGlyphs" stroke="#000" stroke-width="0.25">25 May 2019</text>
<rect x="644" y="802" width="1" height="3" fill="#000"/>
<text x="643.52" y="814" font-size="10.2" fill="#000" textLength="49.68" lengthAdjust="spacingAndGlyphs" stroke="#000" stroke-width="0.25">13 Jun 2019</text>
<rect x="708" y="802" width="1" height="3" fill="#000"/>
<text x="707.14" y="814" font-size="10.2" fill="#000" textLength="42.17" lengthAdjust="spacingAndGlyphs" stroke="#000" stroke-width="0.25">2 Jul 2019</text>
<rect x="772" y="802" width="1" height="3" fill="#000"/>
<text x="771.25" y="814" font-size="10.2" fill="#000" textLength="46.67" lengthAdjust="spacingAndGlyphs" stroke="#000" stroke-width="0.25">20 Jul 2019</text>
<rect x="836" y="802" width="1" height="3" fill="#000"/>
<text x="835.28" y="814" font-size="10.2" fill="#000" textLength="47.65" lengthAdjust="spacingAndGlyphs" stroke="#000" stroke-width="0.25">8 Aug 2019</text>
<rect x="900" y="802" width="1" height="3" fill="#000"/>
<text x="899.33" y="814" font-size="10.2" fill="#000" textLength="53.12" lengthAdjust="spacingAndGlyphs" stroke="#000" stroke-width="0.25">27 Aug 2019</text>
<rect x="964" y="802" width="1" height="3" fill="#000"/>
<text x="963.52" y="814" font-size="10.2" fill="#000" textLength="51.1" lengthAdjust="spacingAndGlyphs" stroke="#000" stroke-width="0.25">14 Sep 2019</text>
<rect x="1028" y="802" width="1" height="3" fill="#000"/>
<text x="1027.22" y="814" font-size="10.2" fill="#000" textLength="46.12" lengthAdjust="spacingAndGlyphs" stroke="#000" stroke-width="0.25">3 Oct 2019</text>
<rect x="1092" y="802" width="1" height="3" fill="#000"/>
<text x="1091.23" y="814" font-size="10.2" fill="#000" textLength="50.71" lengthAdjust="spacingAndGlyphs" stroke="#000" stroke-width="0.25">22 Oct 2019</text>
<rect x="1156" y="802" width="1" height="3" fill="#000"/>
<text x="1155.27" y="814" font-size="10.2" fill="#000" textLength="49.06" lengthAdjust="spacingAndGlyphs" stroke="#000" stroke-width="0.25">9 Nov 2019</text>
<rect x="1220" y="802" width="1" height="3" fill="#000"/>
<text x="1219.33" y="814" font-size="10.2" fill="#000" textLength="53.51" lengthAdjust="spacingAndGlyphs" stroke="#000" stroke-width="0.25">28 Nov 2019</text>
</g>
<rect x="0" y="822" width="1624" height="1" fill="#e3e3e3"/>
<rect x="0" y="825" width="1624" height="19" fill="#f0f0f0"/>
<rect x="0" y="844" width="1624" height="1" fill="#fcfcfc"/>
<rect x="0" y="845" width="1624" height="3" fill="#f0f0f0"/>
<rect x="0" y="824" width="1624" height="1" fill="#000"/>
<rect x="0" y="825" width="1" height="19" fill="#696969"/>
<rect x="314" y="823" width="102" height="19" fill="#fff"/>
<rect x="313" y="824" width="1" height="19" fill="#000"/>
<rect x="416" y="824" width="1" height="19" fill="#000"/>
<rect x="313" y="842" width="104" height="1" fill="#000"/>
<g font-family="Liberation Sans, sans-serif">
<text x="17.15" y="839" font-size="12.2" fill="#808080" textLength="79.69" lengthAdjust="spacingAndGlyphs">EURUSD,Daily</text>
<text x="119.1" y="839" font-size="12.2" fill="#808080" textLength="78.68" lengthAdjust="spacingAndGlyphs">USDCHF,Daily</text>
<text x="220.84" y="839" font-size="12.2" fill="#808080" textLength="80.7" lengthAdjust="spacingAndGlyphs">AUDUSD,Daily</text>
<text x="324.2" y="839" font-size="12.2" fill="#000" textLength="80.74" lengthAdjust="spacingAndGlyphs">USDCAD,Daily</text>
<text x="426.78" y="839" font-size="12.2" fill="#808080" textLength="83.06" lengthAdjust="spacingAndGlyphs">USDCNH,Daily</text>
</g>
<rect x="109" y="827" width="1" height="14" fill="#808080"/>
<rect x="209" y="827" width="1" height="14" fill="#808080"/>
<rect x="521" y="827" width="1" height="14" fill="#808080"/>
<path d="M1600 829.5V836.5L1596.5 833Z" fill="#808080"/>
<path d="M1616 829.5V836.5L1619.5 833Z" fill="#808080"/>
</svg>
</body></html>
